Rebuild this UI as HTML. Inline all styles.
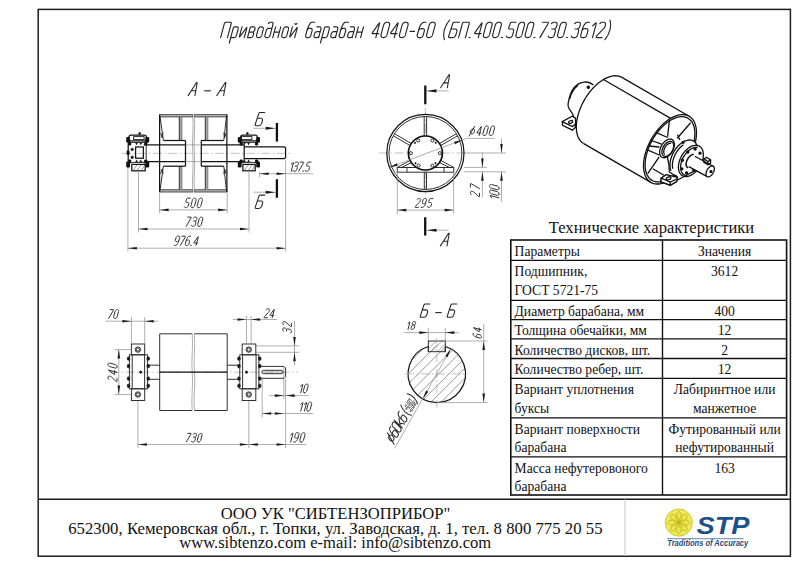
<!DOCTYPE html><html><head><meta charset="utf-8"><style>
*{margin:0;padding:0}
html,body{width:800px;height:566px;background:#fff;overflow:hidden}
svg{position:absolute;left:0;top:0}
.T{stroke:#141414;stroke-width:1.25;fill:none}
.I{stroke:#111;stroke-width:1.3}
.IT{stroke:#111;stroke-width:1.5}
.M{stroke:#262626;stroke-width:0.95}
.m{stroke:#555;stroke-width:0.6}
.m2{stroke:#222;stroke-width:1.1}
.F{stroke:#1e1e1e;stroke-width:1.5}
.t{stroke:#8c8c8c;stroke-width:0.7}
.c{stroke:#a8a8a8;stroke-width:0.7;stroke-dasharray:9 2.5 1.5 2.5}
.c2{stroke:#b0b0b0;stroke-width:0.5}
.S{stroke:#111;stroke-width:2.3}
.g{font-family:"Liberation Sans",sans-serif;font-style:italic;fill:#2a2a2a}
.s{font-family:"Liberation Serif",serif;fill:#111}
.tb{font-size:15.2px}
.ft{font-size:16.7px}
</style></head><body><svg width="800" height="566" viewBox="0 0 800 566"><rect x="38.2" y="9.4" width="752.2" height="546.8" fill="none" stroke="#1e1e1e" stroke-width="1.5"/>
<line x1="38.20" y1="499.20" x2="790.40" y2="499.20" class="F"/>
<line x1="625" y1="499.5" x2="625" y2="556" stroke="#c8c8c8" stroke-width="1"/>
<path transform="translate(220.60 37.60)" d="M0.00,0.00 L3.76,-14.01 L4.11,-14.78 L4.68,-15.25 L5.47,-15.40 L9.65,-15.40 L10.36,-15.25 L10.68,-14.78 L10.63,-14.01 L6.87,0.00 M8.69,5.39 L12.65,-9.39 L12.98,-10.16 L13.49,-10.63 L14.18,-10.78 L16.27,-10.78 L16.72,-10.71 L17.08,-10.50 L17.36,-10.16 L17.44,-10.02 L17.61,-9.57 L17.64,-9.07 L17.55,-8.51 L15.88,-2.27 L15.67,-1.71 L15.36,-1.21 L14.96,-0.76 L14.80,-0.62 L14.34,-0.28 L13.86,-0.07 L13.38,-0.00 L10.13,0.00 M21.42,-10.78 L18.90,-1.39 L18.80,-0.75 L18.97,-0.69 L19.43,-1.20 L25.66,-9.58 L26.12,-10.09 L26.29,-10.03 L26.19,-9.39 L23.67,0.00 M26.93,0.00 L29.45,-9.39 L29.78,-10.16 L30.29,-10.63 L30.98,-10.78 L33.07,-10.78 L33.52,-10.71 L33.88,-10.50 L34.16,-10.16 L34.23,-10.02 L34.40,-9.57 L34.44,-9.07 L34.35,-8.51 L34.16,-7.81 L33.96,-7.25 L33.65,-6.75 L33.24,-6.31 L33.09,-6.17 L32.62,-5.82 L32.15,-5.61 L31.66,-5.54 L28.42,-5.54 M32.40,-5.54 L32.83,-4.78 L33.00,-4.34 L33.04,-3.84 L32.95,-3.28 L32.68,-2.27 L32.47,-1.71 L32.16,-1.21 L31.75,-0.76 L31.60,-0.62 L31.14,-0.28 L30.66,-0.07 L30.18,-0.00 L26.93,0.00 M38.05,-0.00 L38.30,-0.01 L38.54,-0.04 L38.79,-0.08 L38.88,-0.10 L39.12,-0.18 L39.37,-0.29 L39.62,-0.43 L39.70,-0.48 L39.93,-0.65 L40.15,-0.85 L40.36,-1.08 L40.42,-1.16 L40.61,-1.41 L40.77,-1.67 L40.91,-1.95 L40.95,-2.04 L41.06,-2.32 L41.16,-2.61 L41.25,-2.90 L42.58,-7.88 L42.65,-8.17 L42.71,-8.46 L42.74,-8.74 L42.75,-8.83 L42.76,-9.11 L42.74,-9.37 L42.69,-9.62 L42.67,-9.70 L42.58,-9.93 L42.47,-10.13 L42.33,-10.30 L42.28,-10.35 L42.11,-10.49 L41.92,-10.60 L41.71,-10.68 L41.63,-10.70 L41.41,-10.74 L41.18,-10.77 L40.94,-10.78 L40.64,-10.78 L40.39,-10.77 L40.15,-10.74 L39.90,-10.70 L39.82,-10.68 L39.57,-10.60 L39.32,-10.49 L39.07,-10.35 L38.99,-10.30 L38.76,-10.13 L38.54,-9.93 L38.33,-9.70 L38.27,-9.62 L38.08,-9.37 L37.92,-9.11 L37.79,-8.83 L37.74,-8.74 L37.63,-8.46 L37.53,-8.17 L37.44,-7.88 L36.11,-2.90 L36.04,-2.61 L35.99,-2.32 L35.95,-2.04 L35.94,-1.95 L35.93,-1.67 L35.95,-1.41 L36.00,-1.16 L36.02,-1.08 L36.11,-0.85 L36.22,-0.65 L36.36,-0.48 L36.42,-0.43 L36.58,-0.29 L36.77,-0.18 L36.98,-0.10 L37.06,-0.08 L37.28,-0.04 L37.51,-0.01 L37.75,-0.00 L38.05,-0.00 M47.78,-14.17 L48.67,-14.85 L49.16,-15.15 L49.65,-15.34 L50.14,-15.40 L51.10,-15.40 L51.55,-15.33 L51.92,-15.12 L52.19,-14.78 L52.27,-14.64 L52.44,-14.19 L52.48,-13.69 L52.39,-13.13 L49.48,-2.27 L49.27,-1.71 L48.96,-1.21 L48.55,-0.76 L48.40,-0.62 L47.94,-0.28 L47.46,-0.07 L46.98,-0.00 L45.62,-0.00 L45.18,-0.07 L44.81,-0.28 L44.53,-0.62 L44.46,-0.76 L44.29,-1.21 L44.25,-1.71 L44.34,-2.27 L45.60,-6.97 L45.81,-7.53 L46.12,-8.03 L46.52,-8.48 L46.68,-8.62 L47.14,-8.96 L47.61,-9.17 L48.10,-9.24 L51.35,-9.24 M52.13,0.00 L55.02,-10.78 M57.27,0.00 L60.16,-10.78 M53.62,-5.54 L58.76,-5.54 M63.25,-0.00 L63.50,-0.01 L63.74,-0.04 L63.99,-0.08 L64.07,-0.10 L64.32,-0.18 L64.57,-0.29 L64.82,-0.43 L64.90,-0.48 L65.13,-0.65 L65.35,-0.85 L65.56,-1.08 L65.62,-1.16 L65.81,-1.41 L65.97,-1.67 L66.10,-1.95 L66.15,-2.04 L66.26,-2.32 L66.36,-2.61 L66.45,-2.90 L67.78,-7.88 L67.85,-8.17 L67.90,-8.46 L67.94,-8.74 L67.95,-8.83 L67.96,-9.11 L67.94,-9.37 L67.89,-9.62 L67.87,-9.70 L67.78,-9.93 L67.67,-10.13 L67.53,-10.30 L67.47,-10.35 L67.31,-10.49 L67.12,-10.60 L66.91,-10.68 L66.83,-10.70 L66.61,-10.74 L66.38,-10.77 L66.14,-10.78 L65.84,-10.78 L65.59,-10.77 L65.35,-10.74 L65.10,-10.70 L65.01,-10.68 L64.76,-10.60 L64.52,-10.49 L64.27,-10.35 L64.19,-10.30 L63.96,-10.13 L63.74,-9.93 L63.53,-9.70 L63.47,-9.62 L63.28,-9.37 L63.12,-9.11 L62.98,-8.83 L62.94,-8.74 L62.83,-8.46 L62.73,-8.17 L62.64,-7.88 L61.31,-2.90 L61.24,-2.61 L61.18,-2.32 L61.15,-2.04 L61.14,-1.95 L61.13,-1.67 L61.15,-1.41 L61.20,-1.16 L61.22,-1.08 L61.31,-0.85 L61.42,-0.65 L61.56,-0.48 L61.61,-0.43 L61.78,-0.29 L61.97,-0.18 L62.18,-0.10 L62.26,-0.08 L62.48,-0.04 L62.71,-0.01 L62.95,-0.00 L63.25,-0.00 M71.82,-10.78 L69.30,-1.39 L69.20,-0.75 L69.37,-0.69 L69.83,-1.20 L76.06,-9.58 L76.52,-10.09 L76.69,-10.03 L76.59,-9.39 L74.07,0.00 M74.27,-14.17 L74.42,-13.66 L74.53,-13.43 L74.71,-13.29 L74.95,-13.24 L75.15,-13.24 L75.42,-13.29 L75.67,-13.43 L75.91,-13.66 L76.32,-14.17 M94.25,-15.40 L91.43,-15.40 L90.78,-15.28 L90.18,-14.91 L89.64,-14.29 L88.71,-12.94 M88.71,-12.94 L87.59,-10.58 L87.19,-9.68 L86.86,-8.77 L86.58,-7.85 L85.08,-2.27 L84.99,-1.71 L85.03,-1.21 L85.20,-0.76 L85.28,-0.62 L85.56,-0.28 L85.92,-0.07 L86.37,-0.00 L87.72,-0.00 L88.21,-0.07 L88.68,-0.28 L89.15,-0.62 L89.30,-0.76 L89.71,-1.21 L90.01,-1.71 L90.22,-2.27 L91.48,-6.97 L91.57,-7.53 L91.54,-8.03 L91.37,-8.48 L91.29,-8.62 L91.01,-8.96 L90.65,-9.17 L90.20,-9.24 L88.84,-9.24 L88.36,-9.17 L87.88,-8.96 L87.42,-8.62 L86.58,-7.85 M96.28,-10.78 L99.01,-10.78 L99.46,-10.71 L99.82,-10.50 L100.10,-10.16 L100.18,-10.02 L100.35,-9.57 L100.39,-9.07 L100.29,-8.51 L98.01,0.00 M99.62,-6.01 L96.38,-6.01 L95.89,-5.94 L95.42,-5.73 L94.95,-5.38 L94.80,-5.24 L94.39,-4.80 L94.08,-4.30 L93.88,-3.74 L93.48,-2.27 L93.39,-1.71 L93.43,-1.21 L93.60,-0.76 L93.68,-0.62 L93.96,-0.28 L94.32,-0.07 L94.77,-0.00 L96.12,-0.00 L96.61,-0.07 L97.08,-0.28 L97.54,-0.62 L98.39,-1.39 M99.83,5.39 L103.79,-9.39 L104.13,-10.16 L104.64,-10.63 L105.32,-10.78 L107.41,-10.78 L107.86,-10.71 L108.22,-10.50 L108.50,-10.16 L108.58,-10.02 L108.75,-9.57 L108.79,-9.07 L108.69,-8.51 L107.02,-2.27 L106.81,-1.71 L106.51,-1.21 L106.10,-0.76 L105.94,-0.62 L105.48,-0.28 L105.01,-0.07 L104.52,-0.00 L101.27,0.00 M113.08,-10.78 L115.81,-10.78 L116.26,-10.71 L116.62,-10.50 L116.90,-10.16 L116.98,-10.02 L117.15,-9.57 L117.19,-9.07 L117.09,-8.51 L114.81,0.00 M116.42,-6.01 L113.18,-6.01 L112.69,-5.94 L112.22,-5.73 L111.75,-5.38 L111.60,-5.24 L111.19,-4.80 L110.88,-4.30 L110.68,-3.74 L110.28,-2.27 L110.19,-1.71 L110.23,-1.21 L110.40,-0.76 L110.48,-0.62 L110.76,-0.28 L111.12,-0.07 L111.57,-0.00 L112.92,-0.00 L113.41,-0.07 L113.88,-0.28 L114.34,-0.62 L115.18,-1.39 M127.85,-15.40 L125.03,-15.40 L124.37,-15.28 L123.78,-14.91 L123.24,-14.29 L122.31,-12.94 M122.31,-12.94 L121.19,-10.58 L120.79,-9.68 L120.46,-8.77 L120.18,-7.85 L118.68,-2.27 L118.59,-1.71 L118.63,-1.21 L118.80,-0.76 L118.88,-0.62 L119.16,-0.28 L119.52,-0.07 L119.97,-0.00 L121.32,-0.00 L121.81,-0.07 L122.28,-0.28 L122.74,-0.62 L122.90,-0.76 L123.31,-1.21 L123.61,-1.71 L123.82,-2.27 L125.08,-6.97 L125.17,-7.53 L125.13,-8.03 L124.96,-8.48 L124.89,-8.62 L124.61,-8.96 L124.24,-9.17 L123.80,-9.24 L122.44,-9.24 L121.96,-9.17 L121.48,-8.96 L121.02,-8.62 L120.18,-7.85 M129.88,-10.78 L132.61,-10.78 L133.06,-10.71 L133.42,-10.50 L133.70,-10.16 L133.78,-10.02 L133.95,-9.57 L133.99,-9.07 L133.89,-8.51 L131.61,0.00 M133.22,-6.01 L129.98,-6.01 L129.49,-5.94 L129.02,-5.73 L128.55,-5.38 L128.40,-5.24 L127.99,-4.80 L127.68,-4.30 L127.48,-3.74 L127.08,-2.27 L126.99,-1.71 L127.03,-1.21 L127.20,-0.76 L127.28,-0.62 L127.55,-0.28 L127.92,-0.07 L128.37,-0.00 L129.72,-0.00 L130.21,-0.07 L130.68,-0.28 L131.14,-0.62 L131.98,-1.39 M134.87,0.00 L137.76,-10.78 M140.01,0.00 L142.90,-10.78 M136.36,-5.54 L141.50,-5.54 M155.20,0.00 L158.95,-14.01 L159.06,-14.64 L158.88,-14.69 L158.42,-14.15 L152.01,-5.30 L151.85,-5.05 L151.72,-4.79 L151.63,-4.51 L151.60,-4.42 L151.59,-4.19 L151.68,-4.05 L151.89,-4.00 L158.06,-4.00 M162.67,-0.00 L162.85,-0.01 L163.03,-0.02 L163.22,-0.05 L163.54,-0.12 L163.86,-0.20 L164.18,-0.32 L164.49,-0.48 L164.59,-0.54 L164.89,-0.74 L165.17,-0.96 L165.43,-1.22 L165.51,-1.31 L165.74,-1.58 L165.94,-1.88 L166.10,-2.19 L166.15,-2.29 L166.29,-2.61 L166.41,-2.94 L166.50,-3.26 L168.88,-12.14 L168.96,-12.46 L169.01,-12.79 L169.05,-13.11 L169.06,-13.21 L169.06,-13.52 L169.02,-13.82 L168.94,-14.09 L168.91,-14.18 L168.78,-14.44 L168.63,-14.66 L168.43,-14.86 L168.36,-14.92 L168.13,-15.08 L167.88,-15.20 L167.60,-15.28 L167.32,-15.35 L167.15,-15.38 L166.98,-15.39 L166.80,-15.40 L166.74,-15.40 L166.56,-15.39 L166.38,-15.38 L166.19,-15.35 L165.87,-15.28 L165.55,-15.20 L165.23,-15.08 L164.92,-14.92 L164.82,-14.86 L164.52,-14.66 L164.24,-14.44 L163.98,-14.18 L163.90,-14.09 L163.67,-13.82 L163.47,-13.52 L163.31,-13.21 L163.26,-13.11 L163.12,-12.79 L163.00,-12.46 L162.91,-12.14 L160.53,-3.26 L160.45,-2.94 L160.40,-2.61 L160.36,-2.29 L160.35,-2.19 L160.35,-1.88 L160.39,-1.58 L160.47,-1.31 L160.51,-1.22 L160.63,-0.96 L160.78,-0.74 L160.98,-0.54 L161.05,-0.48 L161.28,-0.32 L161.53,-0.20 L161.81,-0.12 L162.09,-0.05 L162.26,-0.02 L162.44,-0.01 L162.61,-0.00 L162.67,-0.00 M173.67,0.00 L177.43,-14.01 L177.53,-14.64 L177.35,-14.69 L176.89,-14.15 L170.48,-5.30 L170.32,-5.05 L170.19,-4.79 L170.10,-4.51 L170.08,-4.42 L170.06,-4.19 L170.16,-4.05 L170.37,-4.00 L176.54,-4.00 M181.14,-0.00 L181.32,-0.01 L181.51,-0.02 L181.69,-0.05 L182.01,-0.12 L182.33,-0.20 L182.65,-0.32 L182.96,-0.48 L183.07,-0.54 L183.37,-0.74 L183.65,-0.96 L183.90,-1.22 L183.99,-1.31 L184.22,-1.58 L184.41,-1.88 L184.58,-2.19 L184.63,-2.29 L184.76,-2.61 L184.88,-2.94 L184.98,-3.26 L187.36,-12.14 L187.43,-12.46 L187.49,-12.79 L187.52,-13.11 L187.53,-13.21 L187.53,-13.52 L187.49,-13.82 L187.41,-14.09 L187.38,-14.18 L187.26,-14.44 L187.10,-14.66 L186.90,-14.86 L186.83,-14.92 L186.61,-15.08 L186.35,-15.20 L186.07,-15.28 L185.79,-15.35 L185.62,-15.38 L185.45,-15.39 L185.27,-15.40 L185.21,-15.40 L185.03,-15.39 L184.85,-15.38 L184.66,-15.35 L184.35,-15.28 L184.02,-15.20 L183.70,-15.08 L183.39,-14.92 L183.29,-14.86 L182.99,-14.66 L182.71,-14.44 L182.45,-14.18 L182.37,-14.09 L182.14,-13.82 L181.94,-13.52 L181.78,-13.21 L181.73,-13.11 L181.59,-12.79 L181.48,-12.46 L181.38,-12.14 L179.00,-3.26 L178.92,-2.94 L178.87,-2.61 L178.83,-2.29 L178.83,-2.19 L178.82,-1.88 L178.86,-1.58 L178.94,-1.31 L178.98,-1.22 L179.10,-0.96 L179.26,-0.74 L179.45,-0.54 L179.52,-0.48 L179.75,-0.32 L180.00,-0.20 L180.28,-0.12 L180.57,-0.05 L180.74,-0.02 L180.91,-0.01 L181.08,-0.00 L181.14,-0.00 M189.46,-6.16 L193.94,-6.16 M205.51,-15.40 L203.86,-15.40 L203.00,-15.28 L202.18,-14.90 L201.43,-14.28 L200.92,-13.75 L200.26,-12.97 L199.71,-12.14 L199.28,-11.25 L199.03,-10.61 L198.68,-9.70 L198.37,-8.78 L198.11,-7.85 L196.66,-2.47 L196.57,-1.88 L196.63,-1.34 L196.83,-0.85 L196.93,-0.69 L197.26,-0.31 L197.70,-0.08 L198.25,-0.00 L199.73,-0.00 L200.32,-0.08 L200.88,-0.31 L201.42,-0.69 L201.60,-0.85 L202.07,-1.34 L202.41,-1.88 L202.64,-2.47 L203.76,-6.66 L203.85,-7.22 L203.78,-7.73 L203.56,-8.17 L203.46,-8.31 L203.13,-8.65 L202.69,-8.86 L202.17,-8.93 L200.60,-8.93 L200.03,-8.86 L199.49,-8.65 L198.97,-8.31 L198.02,-7.55 M208.26,-0.00 L208.44,-0.01 L208.62,-0.02 L208.80,-0.05 L209.12,-0.12 L209.44,-0.20 L209.76,-0.32 L210.08,-0.48 L210.18,-0.54 L210.48,-0.74 L210.76,-0.96 L211.01,-1.22 L211.10,-1.31 L211.33,-1.58 L211.52,-1.88 L211.69,-2.19 L211.74,-2.29 L211.87,-2.61 L211.99,-2.94 L212.09,-3.26 L214.47,-12.14 L214.54,-12.46 L214.60,-12.79 L214.63,-13.11 L214.64,-13.21 L214.64,-13.52 L214.60,-13.82 L214.52,-14.09 L214.49,-14.18 L214.37,-14.44 L214.21,-14.66 L214.01,-14.86 L213.94,-14.92 L213.72,-15.08 L213.46,-15.20 L213.19,-15.28 L212.90,-15.35 L212.73,-15.38 L212.56,-15.39 L212.38,-15.40 L212.32,-15.40 L212.14,-15.39 L211.96,-15.38 L211.78,-15.35 L211.46,-15.28 L211.13,-15.20 L210.82,-15.08 L210.50,-14.92 L210.40,-14.86 L210.10,-14.66 L209.82,-14.44 L209.56,-14.18 L209.48,-14.09 L209.25,-13.82 L209.05,-13.52 L208.89,-13.21 L208.84,-13.11 L208.71,-12.79 L208.59,-12.46 L208.49,-12.14 L206.11,-3.26 L206.04,-2.94 L205.98,-2.61 L205.95,-2.29 L205.94,-2.19 L205.93,-1.88 L205.97,-1.58 L206.06,-1.31 L206.09,-1.22 L206.21,-0.96 L206.37,-0.74 L206.56,-0.54 L206.63,-0.48 L206.86,-0.32 L207.11,-0.20 L207.39,-0.12 L207.68,-0.05 L207.85,-0.02 L208.02,-0.01 L208.20,-0.00 L208.26,-0.00 M229.01,-17.56 L226.76,-14.35 L226.21,-13.50 L225.72,-12.62 L225.32,-11.72 L224.24,-9.07 L223.91,-8.16 L223.67,-7.24 L223.51,-6.33 L223.16,-3.68 L223.09,-2.78 L223.10,-1.90 L223.20,-1.05 L223.73,2.16 M238.87,-15.40 L233.94,-15.40 L233.14,-15.25 L232.54,-14.79 L232.14,-14.02 L228.02,-1.38 L227.92,-0.61 L228.22,-0.15 L228.91,-0.00 L232.00,-0.00 L232.62,-0.08 L233.22,-0.31 L233.81,-0.69 L234.00,-0.85 L234.51,-1.34 L234.90,-1.90 L235.17,-2.52 L236.20,-5.70 L236.35,-6.39 L236.32,-7.03 L236.11,-7.61 L236.01,-7.79 L235.64,-8.25 L235.14,-8.53 L234.51,-8.62 L230.18,-8.62 M238.00,0.00 L241.76,-14.01 L242.11,-14.78 L242.68,-15.25 L243.47,-15.40 L247.65,-15.40 L248.36,-15.25 L248.68,-14.78 L248.63,-14.01 L244.87,0.00 M248.32,-0.15 L249.52,-0.15 M257.67,0.00 L261.42,-14.01 L261.53,-14.64 L261.35,-14.69 L260.89,-14.15 L254.48,-5.30 L254.32,-5.05 L254.19,-4.79 L254.10,-4.51 L254.07,-4.42 L254.06,-4.19 L254.15,-4.05 L254.36,-4.00 L260.53,-4.00 M265.14,-0.00 L265.32,-0.01 L265.50,-0.02 L265.69,-0.05 L266.01,-0.12 L266.33,-0.20 L266.65,-0.32 L266.96,-0.48 L267.06,-0.54 L267.36,-0.74 L267.64,-0.96 L267.90,-1.22 L267.98,-1.31 L268.21,-1.58 L268.41,-1.88 L268.57,-2.19 L268.62,-2.29 L268.76,-2.61 L268.88,-2.94 L268.97,-3.26 L271.35,-12.14 L271.43,-12.46 L271.48,-12.79 L271.52,-13.11 L271.53,-13.21 L271.53,-13.52 L271.49,-13.82 L271.41,-14.09 L271.37,-14.18 L271.25,-14.44 L271.10,-14.66 L270.90,-14.86 L270.83,-14.92 L270.60,-15.08 L270.35,-15.20 L270.07,-15.28 L269.79,-15.35 L269.62,-15.38 L269.45,-15.39 L269.27,-15.40 L269.21,-15.40 L269.03,-15.39 L268.85,-15.38 L268.66,-15.35 L268.34,-15.28 L268.02,-15.20 L267.70,-15.08 L267.39,-14.92 L267.29,-14.86 L266.99,-14.66 L266.71,-14.44 L266.45,-14.18 L266.37,-14.09 L266.14,-13.82 L265.94,-13.52 L265.78,-13.21 L265.73,-13.11 L265.59,-12.79 L265.47,-12.46 L265.38,-12.14 L263.00,-3.26 L262.92,-2.94 L262.87,-2.61 L262.83,-2.29 L262.82,-2.19 L262.82,-1.88 L262.86,-1.58 L262.94,-1.31 L262.98,-1.22 L263.10,-0.96 L263.25,-0.74 L263.45,-0.54 L263.52,-0.48 L263.75,-0.32 L264.00,-0.20 L264.28,-0.12 L264.56,-0.05 L264.73,-0.02 L264.91,-0.01 L265.08,-0.00 L265.14,-0.00 M274.38,-0.00 L274.56,-0.01 L274.74,-0.02 L274.93,-0.05 L275.24,-0.12 L275.57,-0.20 L275.89,-0.32 L276.20,-0.48 L276.30,-0.54 L276.60,-0.74 L276.88,-0.96 L277.14,-1.22 L277.22,-1.31 L277.45,-1.58 L277.65,-1.88 L277.81,-2.19 L277.86,-2.29 L278.00,-2.61 L278.11,-2.94 L278.21,-3.26 L280.59,-12.14 L280.67,-12.46 L280.72,-12.79 L280.76,-13.11 L280.76,-13.21 L280.77,-13.52 L280.73,-13.82 L280.65,-14.09 L280.61,-14.18 L280.49,-14.44 L280.33,-14.66 L280.14,-14.86 L280.07,-14.92 L279.84,-15.08 L279.59,-15.20 L279.31,-15.28 L279.02,-15.35 L278.85,-15.38 L278.68,-15.39 L278.50,-15.40 L278.44,-15.40 L278.26,-15.39 L278.08,-15.38 L277.90,-15.35 L277.58,-15.28 L277.26,-15.20 L276.94,-15.08 L276.63,-14.92 L276.52,-14.86 L276.22,-14.66 L275.94,-14.44 L275.69,-14.18 L275.60,-14.09 L275.37,-13.82 L275.18,-13.52 L275.01,-13.21 L274.96,-13.11 L274.83,-12.79 L274.71,-12.46 L274.61,-12.14 L272.23,-3.26 L272.16,-2.94 L272.10,-2.61 L272.07,-2.29 L272.06,-2.19 L272.06,-1.88 L272.10,-1.58 L272.18,-1.31 L272.21,-1.22 L272.33,-0.96 L272.49,-0.74 L272.69,-0.54 L272.76,-0.48 L272.98,-0.32 L273.24,-0.20 L273.51,-0.12 L273.80,-0.05 L273.97,-0.02 L274.14,-0.01 L274.32,-0.00 L274.38,-0.00 M280.79,-0.15 L281.98,-0.15 M295.45,-15.40 L291.42,-15.40 L290.62,-15.25 L290.01,-14.79 L289.58,-14.02 L288.15,-10.00 L288.03,-9.24 L288.31,-8.78 L289.01,-8.62 L291.39,-8.62 L291.94,-8.55 L292.38,-8.32 L292.71,-7.93 L292.81,-7.78 L293.01,-7.29 L293.07,-6.75 L292.98,-6.15 L291.99,-2.47 L291.76,-1.88 L291.42,-1.34 L290.95,-0.85 L290.77,-0.69 L290.23,-0.31 L289.67,-0.08 L289.08,-0.00 L287.60,-0.00 L287.05,-0.08 L286.61,-0.31 L286.28,-0.69 L285.76,-1.54 M297.61,-0.00 L297.79,-0.01 L297.97,-0.02 L298.15,-0.05 L298.47,-0.12 L298.79,-0.20 L299.11,-0.32 L299.43,-0.48 L299.53,-0.54 L299.83,-0.74 L300.11,-0.96 L300.36,-1.22 L300.45,-1.31 L300.68,-1.58 L300.87,-1.88 L301.04,-2.19 L301.09,-2.29 L301.22,-2.61 L301.34,-2.94 L301.44,-3.26 L303.82,-12.14 L303.89,-12.46 L303.95,-12.79 L303.98,-13.11 L303.99,-13.21 L303.99,-13.52 L303.95,-13.82 L303.87,-14.09 L303.84,-14.18 L303.72,-14.44 L303.56,-14.66 L303.36,-14.86 L303.29,-14.92 L303.07,-15.08 L302.81,-15.20 L302.54,-15.28 L302.25,-15.35 L302.08,-15.38 L301.91,-15.39 L301.73,-15.40 L301.67,-15.40 L301.49,-15.39 L301.31,-15.38 L301.13,-15.35 L300.81,-15.28 L300.48,-15.20 L300.17,-15.08 L299.85,-14.92 L299.75,-14.86 L299.45,-14.66 L299.17,-14.44 L298.91,-14.18 L298.83,-14.09 L298.60,-13.82 L298.40,-13.52 L298.24,-13.21 L298.19,-13.11 L298.06,-12.79 L297.94,-12.46 L297.84,-12.14 L295.46,-3.26 L295.38,-2.94 L295.33,-2.61 L295.30,-2.29 L295.29,-2.19 L295.28,-1.88 L295.32,-1.58 L295.41,-1.31 L295.44,-1.22 L295.56,-0.96 L295.72,-0.74 L295.91,-0.54 L295.98,-0.48 L296.21,-0.32 L296.46,-0.20 L296.74,-0.12 L297.03,-0.05 L297.20,-0.02 L297.37,-0.01 L297.55,-0.00 L297.61,-0.00 M306.84,-0.00 L307.02,-0.01 L307.20,-0.02 L307.39,-0.05 L307.71,-0.12 L308.03,-0.20 L308.35,-0.32 L308.66,-0.48 L308.76,-0.54 L309.06,-0.74 L309.34,-0.96 L309.60,-1.22 L309.68,-1.31 L309.91,-1.58 L310.11,-1.88 L310.27,-2.19 L310.32,-2.29 L310.46,-2.61 L310.58,-2.94 L310.67,-3.26 L313.05,-12.14 L313.13,-12.46 L313.18,-12.79 L313.22,-13.11 L313.23,-13.21 L313.23,-13.52 L313.19,-13.82 L313.11,-14.09 L313.07,-14.18 L312.95,-14.44 L312.80,-14.66 L312.60,-14.86 L312.53,-14.92 L312.30,-15.08 L312.05,-15.20 L311.77,-15.28 L311.49,-15.35 L311.32,-15.38 L311.15,-15.39 L310.97,-15.40 L310.91,-15.40 L310.73,-15.39 L310.55,-15.38 L310.36,-15.35 L310.04,-15.28 L309.72,-15.20 L309.40,-15.08 L309.09,-14.92 L308.99,-14.86 L308.69,-14.66 L308.41,-14.44 L308.15,-14.18 L308.07,-14.09 L307.84,-13.82 L307.64,-13.52 L307.48,-13.21 L307.43,-13.11 L307.29,-12.79 L307.17,-12.46 L307.08,-12.14 L304.70,-3.26 L304.62,-2.94 L304.57,-2.61 L304.53,-2.29 L304.52,-2.19 L304.52,-1.88 L304.56,-1.58 L304.64,-1.31 L304.68,-1.22 L304.80,-0.96 L304.95,-0.74 L305.15,-0.54 L305.22,-0.48 L305.45,-0.32 L305.70,-0.20 L305.98,-0.12 L306.26,-0.05 L306.43,-0.02 L306.61,-0.01 L306.78,-0.00 L306.84,-0.00 M313.25,-0.15 L314.45,-0.15 M321.94,-15.40 L327.38,-15.40 L327.66,-15.34 L327.79,-15.15 L327.77,-14.85 L327.74,-14.72 L327.62,-14.36 L327.47,-14.00 L327.28,-13.64 L319.31,0.00 M330.77,-13.86 L331.73,-14.71 L332.27,-15.09 L332.84,-15.32 L333.43,-15.40 L334.90,-15.40 L335.45,-15.32 L335.89,-15.09 L336.23,-14.71 L336.32,-14.55 L336.53,-14.06 L336.58,-13.52 L336.49,-12.93 L336.00,-11.10 L335.77,-10.50 L335.43,-9.96 L334.96,-9.47 L334.78,-9.32 L334.24,-8.93 L333.68,-8.70 L333.09,-8.62 L331.16,-8.62 M333.99,-8.62 L334.51,-7.78 L334.71,-7.29 L334.77,-6.75 L334.68,-6.15 L333.69,-2.47 L333.46,-1.88 L333.12,-1.34 L332.65,-0.85 L332.47,-0.69 L331.93,-0.31 L331.37,-0.08 L330.78,-0.00 L329.30,-0.00 L328.75,-0.08 L328.31,-0.31 L327.98,-0.69 L327.46,-1.54 M339.31,-0.00 L339.49,-0.01 L339.67,-0.02 L339.85,-0.05 L340.17,-0.12 L340.49,-0.20 L340.81,-0.32 L341.12,-0.48 L341.23,-0.54 L341.53,-0.74 L341.81,-0.96 L342.06,-1.22 L342.15,-1.31 L342.38,-1.58 L342.57,-1.88 L342.74,-2.19 L342.79,-2.29 L342.92,-2.61 L343.04,-2.94 L343.14,-3.26 L345.52,-12.14 L345.59,-12.46 L345.65,-12.79 L345.68,-13.11 L345.69,-13.21 L345.69,-13.52 L345.65,-13.82 L345.57,-14.09 L345.54,-14.18 L345.42,-14.44 L345.26,-14.66 L345.06,-14.86 L344.99,-14.92 L344.77,-15.08 L344.51,-15.20 L344.24,-15.28 L343.95,-15.35 L343.78,-15.38 L343.61,-15.39 L343.43,-15.40 L343.37,-15.40 L343.19,-15.39 L343.01,-15.38 L342.83,-15.35 L342.51,-15.28 L342.18,-15.20 L341.87,-15.08 L341.55,-14.92 L341.45,-14.86 L341.15,-14.66 L340.87,-14.44 L340.61,-14.18 L340.53,-14.09 L340.30,-13.82 L340.10,-13.52 L339.94,-13.21 L339.89,-13.11 L339.75,-12.79 L339.64,-12.46 L339.54,-12.14 L337.16,-3.26 L337.08,-2.94 L337.03,-2.61 L336.99,-2.29 L336.99,-2.19 L336.98,-1.88 L337.02,-1.58 L337.11,-1.31 L337.14,-1.22 L337.26,-0.96 L337.42,-0.74 L337.61,-0.54 L337.68,-0.48 L337.91,-0.32 L338.16,-0.20 L338.44,-0.12 L338.73,-0.05 L338.90,-0.02 L339.07,-0.01 L339.25,-0.00 L339.31,-0.00 M345.71,-0.15 L346.91,-0.15 M353.99,-13.86 L354.96,-14.71 L355.50,-15.09 L356.06,-15.32 L356.65,-15.40 L358.13,-15.40 L358.68,-15.32 L359.12,-15.09 L359.46,-14.71 L359.55,-14.55 L359.75,-14.06 L359.81,-13.52 L359.72,-12.93 L359.23,-11.10 L359.00,-10.50 L358.65,-9.96 L358.19,-9.47 L358.01,-9.32 L357.47,-8.93 L356.91,-8.70 L356.32,-8.62 L354.38,-8.62 M357.22,-8.62 L357.73,-7.78 L357.94,-7.29 L357.99,-6.75 L357.90,-6.15 L356.92,-2.47 L356.69,-1.88 L356.34,-1.34 L355.88,-0.85 L355.70,-0.69 L355.16,-0.31 L354.60,-0.08 L354.01,-0.00 L352.53,-0.00 L351.98,-0.08 L351.54,-0.31 L351.20,-0.69 L350.69,-1.54 M369.02,-15.40 L367.38,-15.40 L366.51,-15.28 L365.70,-14.90 L364.94,-14.28 L364.44,-13.75 L363.77,-12.97 L363.22,-12.14 L362.80,-11.25 L362.54,-10.61 L362.19,-9.70 L361.89,-8.78 L361.62,-7.85 L360.18,-2.47 L360.09,-1.88 L360.14,-1.34 L360.35,-0.85 L360.44,-0.69 L360.77,-0.31 L361.22,-0.08 L361.76,-0.00 L363.24,-0.00 L363.83,-0.08 L364.40,-0.31 L364.94,-0.69 L365.11,-0.85 L365.58,-1.34 L365.93,-1.88 L366.15,-2.47 L367.28,-6.66 L367.36,-7.22 L367.29,-7.73 L367.07,-8.17 L366.98,-8.31 L366.64,-8.65 L366.21,-8.86 L365.68,-8.93 L364.11,-8.93 L363.55,-8.86 L363.01,-8.65 L362.48,-8.31 L361.54,-7.55 M371.89,-11.70 L374.85,-14.36 L375.46,-14.78 L375.72,-14.67 L375.64,-14.01 L371.89,0.00 M379.16,-13.86 L380.13,-14.71 L380.67,-15.09 L381.23,-15.32 L381.82,-15.40 L383.30,-15.40 L383.85,-15.32 L384.29,-15.09 L384.62,-14.71 L384.72,-14.55 L384.92,-14.06 L384.98,-13.52 L384.89,-12.93 L384.52,-11.55 L384.19,-10.65 L383.71,-9.81 L383.07,-9.03 L376.30,-1.90 L376.02,-1.54 L375.80,-1.17 L375.65,-0.76 L375.62,-0.62 L375.59,-0.28 L375.74,-0.07 L376.05,-0.00 L381.42,0.00 M389.39,-17.56 L389.92,-14.35 L390.02,-13.50 L390.03,-12.62 L389.96,-11.72 L389.61,-9.07 L389.45,-8.16 L389.21,-7.24 L388.88,-6.33 L387.80,-3.68 L387.39,-2.78 L386.91,-1.90 L386.36,-1.05 L384.11,2.16" fill="none" stroke="#262626" stroke-width="1.15" stroke-linecap="round" stroke-linejoin="round"/>
<line x1="122" y1="153.35" x2="292" y2="153.35" class="c"/>
<rect x="159.6" y="114.7" width="33.10" height="2.20" fill="#bdbdbd" stroke="#2a2a2a" stroke-width="0.8"/>
<rect x="159.6" y="189.8" width="33.10" height="2.20" fill="#bdbdbd" stroke="#2a2a2a" stroke-width="0.8"/>
<rect x="194.5" y="114.7" width="32.40" height="2.20" fill="#bdbdbd" stroke="#2a2a2a" stroke-width="0.8"/>
<rect x="194.5" y="189.8" width="32.40" height="2.20" fill="#bdbdbd" stroke="#2a2a2a" stroke-width="0.8"/>
<rect x="179.3" y="116.9" width="2.70" height="23.60" fill="#a9a9a9" stroke="none"/>
<line x1="179.30" y1="116.90" x2="179.30" y2="140.50" class="M"/>
<line x1="182.00" y1="116.90" x2="182.00" y2="140.50" class="m"/>
<rect x="179.3" y="166.2" width="2.70" height="23.60" fill="#a9a9a9" stroke="none"/>
<line x1="179.30" y1="166.20" x2="179.30" y2="189.80" class="M"/>
<line x1="182.00" y1="166.20" x2="182.00" y2="189.80" class="m"/>
<rect x="205.3" y="116.9" width="2.60" height="23.60" fill="#a9a9a9" stroke="none"/>
<line x1="205.30" y1="116.90" x2="205.30" y2="140.50" class="M"/>
<line x1="207.90" y1="116.90" x2="207.90" y2="140.50" class="m"/>
<rect x="205.3" y="166.2" width="2.60" height="23.60" fill="#a9a9a9" stroke="none"/>
<line x1="205.30" y1="166.20" x2="205.30" y2="189.80" class="M"/>
<line x1="207.90" y1="166.20" x2="207.90" y2="189.80" class="m"/>
<line x1="163.40" y1="140.50" x2="185.50" y2="140.50" class="T"/>
<line x1="163.40" y1="166.20" x2="185.50" y2="166.20" class="T"/>
<line x1="185.50" y1="140.50" x2="185.50" y2="166.20" class="T"/>
<line x1="160.10" y1="116.90" x2="163.40" y2="140.50" class="M"/>
<line x1="160.10" y1="189.80" x2="163.40" y2="166.20" class="M"/>
<polyline points="160.60,133.00 162.20,137.80 163.00,132.60" class="M" fill="none"/>
<polyline points="160.60,173.70 162.20,168.90 163.00,174.10" class="M" fill="none"/>
<line x1="201.30" y1="140.50" x2="223.80" y2="140.50" class="T"/>
<line x1="201.30" y1="166.20" x2="223.80" y2="166.20" class="T"/>
<line x1="201.30" y1="140.50" x2="201.30" y2="166.20" class="T"/>
<line x1="226.40" y1="116.90" x2="223.80" y2="140.50" class="M"/>
<line x1="226.40" y1="189.80" x2="223.80" y2="166.20" class="M"/>
<polyline points="226.10,133.00 224.60,137.80 223.80,132.60" class="M" fill="none"/>
<polyline points="226.10,173.70 224.60,168.90 223.80,174.10" class="M" fill="none"/>
<line x1="159.60" y1="114.70" x2="159.60" y2="192.00" class="T"/>
<line x1="226.90" y1="114.70" x2="226.90" y2="192.00" class="T"/>
<path d="M192.8,114.7 q0.6,9.7 0,19.4 q-0.6,9.7 0,19.4 q0.6,9.7 0,19.4 q-0.6,9.7 0,19.1" class="t" fill="none"/>
<path d="M194.4,114.7 q0.6,9.7 0,19.4 q-0.6,9.7 0,19.4 q0.6,9.7 0,19.4 q-0.6,9.7 0,19.1" class="t" fill="none"/>
<line x1="143.80" y1="144.90" x2="185.50" y2="144.90" class="T"/>
<line x1="143.80" y1="161.60" x2="185.50" y2="161.60" class="T"/>
<line x1="201.30" y1="144.90" x2="244.20" y2="144.90" class="T"/>
<line x1="201.30" y1="161.60" x2="244.20" y2="161.60" class="T"/>
<line x1="185.50" y1="144.90" x2="201.30" y2="144.90" class="t"/>
<line x1="185.50" y1="161.60" x2="201.30" y2="161.60" class="t"/>
<polyline points="244.20,146.90 284.40,146.90 285.60,148.10 285.60,157.40 284.40,158.60 244.20,158.60" class="T" fill="none"/>
<line x1="244.20" y1="144.90" x2="244.20" y2="161.60" class="T"/>
<rect x="129.00" y="135.20" width="17.40" height="5.70" class="T" fill="none" rx="2.0"/>
<rect x="133.60" y="136.60" width="10.50" height="3.00" class="M" fill="none" rx="0"/>
<line x1="139.60" y1="132.60" x2="139.60" y2="135.20" class="T"/>
<circle cx="139.60" cy="133.40" r="0.90" class="M" fill="#222"/>
<rect x="126.20" y="136.90" width="3.80" height="5.70" rx="1.2" fill="#111"/>
<rect x="145.40" y="136.90" width="3.80" height="5.70" rx="1.2" fill="#111"/>
<rect x="126.20" y="161.40" width="3.80" height="6.00" rx="1.2" fill="#111"/>
<rect x="145.40" y="161.40" width="3.80" height="6.00" rx="1.2" fill="#111"/>
<rect x="128.00" y="141.40" width="3.20" height="4.00" rx="1.2" fill="#111"/>
<rect x="144.20" y="141.40" width="3.20" height="4.00" rx="1.2" fill="#111"/>
<rect x="128.00" y="159.40" width="3.20" height="4.00" rx="1.2" fill="#111"/>
<rect x="144.20" y="159.40" width="3.20" height="4.00" rx="1.2" fill="#111"/>
<line x1="130.10" y1="142.40" x2="145.30" y2="142.40" class="M"/>
<line x1="130.10" y1="162.40" x2="145.30" y2="162.40" class="M"/>
<polygon points="135.00,142.6 138.20,142.6 136.60,145.2" fill="#222"/>
<polygon points="135.00,162.2 138.20,162.2 136.60,159.6" fill="#222"/>
<polygon points="139.20,142.6 142.40,142.6 140.80,145.2" fill="#222"/>
<polygon points="139.20,162.2 142.40,162.2 140.80,159.6" fill="#222"/>
<line x1="128.20" y1="137.50" x2="128.20" y2="167.50" class="T"/>
<rect x="126.60" y="150.60" width="3.00" height="4.40" rx="1.2" fill="#111"/>
<rect x="135.60" y="147.00" width="7.80" height="11.20" class="T" fill="none" rx="0"/>
<circle cx="132.20" cy="149.40" r="1.20" class="M" fill="#111"/>
<circle cx="132.20" cy="157.30" r="1.20" class="M" fill="#111"/>
<line x1="146.20" y1="145.20" x2="146.20" y2="159.60" class="M"/>
<rect x="131.80" y="164.40" width="13.40" height="6.40" class="T" fill="none" rx="0"/>
<line x1="133.40" y1="170.20" x2="137.00" y2="165.00" class="m"/>
<line x1="137.30" y1="170.20" x2="140.90" y2="165.00" class="m"/>
<line x1="141.20" y1="170.20" x2="144.80" y2="165.00" class="m"/>
<rect x="240.60" y="135.20" width="16.60" height="5.70" class="T" fill="none" rx="2.0"/>
<rect x="241.40" y="136.60" width="10.50" height="3.00" class="M" fill="none" rx="0"/>
<line x1="247.40" y1="132.60" x2="247.40" y2="135.20" class="T"/>
<circle cx="247.40" cy="133.40" r="0.90" class="M" fill="#222"/>
<rect x="237.80" y="136.90" width="3.80" height="5.70" rx="1.2" fill="#111"/>
<rect x="256.20" y="136.90" width="3.80" height="5.70" rx="1.2" fill="#111"/>
<rect x="237.80" y="161.40" width="3.80" height="6.00" rx="1.2" fill="#111"/>
<rect x="256.20" y="161.40" width="3.80" height="6.00" rx="1.2" fill="#111"/>
<rect x="239.60" y="141.40" width="3.20" height="4.00" rx="1.2" fill="#111"/>
<rect x="255.00" y="141.40" width="3.20" height="4.00" rx="1.2" fill="#111"/>
<rect x="239.60" y="159.40" width="3.20" height="4.00" rx="1.2" fill="#111"/>
<rect x="255.00" y="159.40" width="3.20" height="4.00" rx="1.2" fill="#111"/>
<line x1="241.70" y1="142.40" x2="256.10" y2="142.40" class="M"/>
<line x1="241.70" y1="162.40" x2="256.10" y2="162.40" class="M"/>
<polygon points="242.80,142.6 246.00,142.6 244.40,145.2" fill="#222"/>
<polygon points="242.80,162.2 246.00,162.2 244.40,159.6" fill="#222"/>
<polygon points="247.00,142.6 250.20,142.6 248.60,145.2" fill="#222"/>
<polygon points="247.00,162.2 250.20,162.2 248.60,159.6" fill="#222"/>
<rect x="242.90" y="164.40" width="12.30" height="6.40" class="T" fill="none" rx="0"/>
<line x1="244.50" y1="170.20" x2="248.10" y2="165.00" class="m"/>
<line x1="248.40" y1="170.20" x2="252.00" y2="165.00" class="m"/>
<line x1="252.30" y1="170.20" x2="254.80" y2="165.00" class="m"/>
<line x1="127.90" y1="168.00" x2="127.90" y2="251.50" class="t"/>
<line x1="138.50" y1="172.00" x2="138.50" y2="232.50" class="t"/>
<line x1="159.60" y1="193.00" x2="159.60" y2="213.00" class="t"/>
<line x1="227.20" y1="193.00" x2="227.20" y2="213.00" class="t"/>
<line x1="249.00" y1="172.00" x2="249.00" y2="232.50" class="t"/>
<line x1="285.60" y1="159.50" x2="285.60" y2="251.50" class="t"/>
<line x1="259.60" y1="172.00" x2="259.60" y2="177.00" class="t"/>
<line x1="159.60" y1="209.90" x2="227.20" y2="209.90" class="t"/>
<polygon points="159.60,209.90 168.60,208.60 168.60,211.20" fill="#1a1a1a" stroke="none"/>
<polygon points="227.20,209.90 218.20,211.20 218.20,208.60" fill="#1a1a1a" stroke="none"/>
<path transform="translate(184.10 207.60)" d="M6.20,-9.40 L3.72,-9.40 L3.22,-9.31 L2.85,-9.03 L2.59,-8.56 L1.71,-6.11 L1.64,-5.64 L1.81,-5.36 L2.24,-5.26 L3.71,-5.26 L4.05,-5.22 L4.32,-5.08 L4.53,-4.84 L4.58,-4.75 L4.71,-4.45 L4.75,-4.12 L4.69,-3.75 L4.09,-1.51 L3.95,-1.15 L3.74,-0.82 L3.45,-0.52 L3.34,-0.42 L3.01,-0.19 L2.66,-0.05 L2.30,-0.00 L1.39,-0.00 L1.05,-0.05 L0.78,-0.19 L0.57,-0.42 L0.25,-0.94 M8.16,-0.00 L8.27,-0.00 L8.38,-0.01 L8.50,-0.03 L8.69,-0.07 L8.89,-0.12 L9.09,-0.20 L9.28,-0.29 L9.34,-0.33 L9.53,-0.45 L9.70,-0.59 L9.86,-0.74 L9.91,-0.80 L10.05,-0.97 L10.17,-1.15 L10.27,-1.34 L10.30,-1.40 L10.39,-1.60 L10.46,-1.79 L10.52,-1.99 L11.97,-7.41 L12.02,-7.61 L12.05,-7.80 L12.07,-8.00 L12.07,-8.06 L12.08,-8.25 L12.05,-8.43 L12.00,-8.60 L11.98,-8.66 L11.90,-8.81 L11.81,-8.95 L11.69,-9.07 L11.64,-9.11 L11.50,-9.20 L11.35,-9.28 L11.17,-9.33 L11.00,-9.37 L10.89,-9.39 L10.79,-9.40 L10.68,-9.40 L10.64,-9.40 L10.53,-9.40 L10.42,-9.39 L10.30,-9.37 L10.11,-9.33 L9.91,-9.28 L9.71,-9.20 L9.52,-9.11 L9.46,-9.07 L9.27,-8.95 L9.10,-8.81 L8.94,-8.66 L8.89,-8.60 L8.75,-8.43 L8.63,-8.25 L8.53,-8.06 L8.50,-8.00 L8.41,-7.80 L8.34,-7.61 L8.28,-7.41 L6.83,-1.99 L6.78,-1.79 L6.75,-1.60 L6.73,-1.40 L6.73,-1.34 L6.72,-1.15 L6.75,-0.97 L6.80,-0.80 L6.82,-0.74 L6.90,-0.59 L6.99,-0.45 L7.11,-0.33 L7.16,-0.29 L7.30,-0.20 L7.45,-0.12 L7.63,-0.07 L7.80,-0.03 L7.91,-0.01 L8.01,-0.00 L8.12,-0.00 L8.16,-0.00 M14.46,-0.00 L14.57,-0.00 L14.68,-0.01 L14.79,-0.03 L14.99,-0.07 L15.19,-0.12 L15.39,-0.20 L15.58,-0.29 L15.64,-0.33 L15.83,-0.45 L16.00,-0.59 L16.16,-0.74 L16.21,-0.80 L16.35,-0.97 L16.47,-1.15 L16.57,-1.34 L16.60,-1.40 L16.68,-1.60 L16.76,-1.79 L16.81,-1.99 L18.27,-7.41 L18.31,-7.61 L18.35,-7.80 L18.37,-8.00 L18.37,-8.06 L18.37,-8.25 L18.35,-8.43 L18.30,-8.60 L18.28,-8.66 L18.20,-8.81 L18.10,-8.95 L17.98,-9.07 L17.94,-9.11 L17.80,-9.20 L17.64,-9.28 L17.47,-9.33 L17.30,-9.37 L17.19,-9.39 L17.09,-9.40 L16.98,-9.40 L16.94,-9.40 L16.83,-9.40 L16.72,-9.39 L16.60,-9.37 L16.41,-9.33 L16.21,-9.28 L16.01,-9.20 L15.82,-9.11 L15.75,-9.07 L15.57,-8.95 L15.40,-8.81 L15.24,-8.66 L15.19,-8.60 L15.05,-8.43 L14.93,-8.25 L14.83,-8.06 L14.80,-8.00 L14.71,-7.80 L14.64,-7.61 L14.58,-7.41 L13.13,-1.99 L13.08,-1.79 L13.05,-1.60 L13.03,-1.40 L13.02,-1.34 L13.02,-1.15 L13.05,-0.97 L13.10,-0.80 L13.12,-0.74 L13.19,-0.59 L13.29,-0.45 L13.41,-0.33 L13.46,-0.29 L13.60,-0.20 L13.75,-0.12 L13.92,-0.07 L14.10,-0.03 L14.20,-0.01 L14.31,-0.00 L14.42,-0.00 L14.46,-0.00" fill="none" stroke="#262626" stroke-width="0.95" stroke-linecap="round" stroke-linejoin="round"/>
<line x1="138.50" y1="229.00" x2="249.00" y2="229.00" class="t"/>
<polygon points="138.50,229.00 147.50,227.70 147.50,230.30" fill="#1a1a1a" stroke="none"/>
<polygon points="249.00,229.00 240.00,230.30 240.00,227.70" fill="#1a1a1a" stroke="none"/>
<path transform="translate(185.30 226.30)" d="M2.47,-9.20 L5.75,-9.20 L5.92,-9.16 L6.00,-9.05 L5.98,-8.87 L5.96,-8.80 L5.89,-8.58 L5.80,-8.36 L5.69,-8.15 L0.90,0.00 M8.18,-8.28 L8.76,-8.79 L9.09,-9.02 L9.43,-9.15 L9.79,-9.20 L10.68,-9.20 L11.01,-9.15 L11.28,-9.02 L11.48,-8.79 L11.54,-8.69 L11.66,-8.40 L11.69,-8.08 L11.64,-7.72 L11.35,-6.63 L11.21,-6.27 L11.00,-5.95 L10.72,-5.66 L10.62,-5.57 L10.29,-5.34 L9.95,-5.20 L9.59,-5.15 L8.43,-5.15 M10.14,-5.15 L10.45,-4.65 L10.58,-4.35 L10.61,-4.03 L10.56,-3.68 L9.97,-1.48 L9.83,-1.12 L9.62,-0.80 L9.34,-0.51 L9.24,-0.41 L8.91,-0.18 L8.57,-0.05 L8.21,-0.00 L7.32,-0.00 L6.99,-0.05 L6.72,-0.18 L6.52,-0.41 L6.21,-0.92 M13.75,-0.00 L13.86,-0.00 L13.97,-0.01 L14.08,-0.03 L14.27,-0.07 L14.47,-0.12 L14.66,-0.19 L14.85,-0.29 L14.91,-0.32 L15.09,-0.44 L15.26,-0.57 L15.41,-0.73 L15.46,-0.78 L15.60,-0.95 L15.72,-1.12 L15.82,-1.31 L15.85,-1.37 L15.93,-1.56 L16.00,-1.75 L16.06,-1.95 L17.48,-7.25 L17.52,-7.45 L17.56,-7.64 L17.58,-7.83 L17.58,-7.89 L17.58,-8.08 L17.56,-8.25 L17.51,-8.42 L17.49,-8.47 L17.41,-8.63 L17.32,-8.76 L17.20,-8.88 L17.16,-8.91 L17.02,-9.01 L16.87,-9.08 L16.70,-9.13 L16.53,-9.17 L16.43,-9.19 L16.32,-9.20 L16.21,-9.20 L16.18,-9.20 L16.07,-9.20 L15.96,-9.19 L15.85,-9.17 L15.66,-9.13 L15.46,-9.08 L15.27,-9.01 L15.08,-8.91 L15.02,-8.88 L14.84,-8.76 L14.67,-8.63 L14.52,-8.47 L14.47,-8.42 L14.33,-8.25 L14.21,-8.08 L14.11,-7.89 L14.08,-7.83 L14.00,-7.64 L13.93,-7.45 L13.87,-7.25 L12.45,-1.95 L12.40,-1.75 L12.37,-1.56 L12.35,-1.37 L12.35,-1.31 L12.35,-1.12 L12.37,-0.95 L12.42,-0.78 L12.44,-0.73 L12.51,-0.57 L12.61,-0.44 L12.73,-0.32 L12.77,-0.29 L12.91,-0.19 L13.06,-0.12 L13.23,-0.07 L13.40,-0.03 L13.50,-0.01 L13.61,-0.00 L13.71,-0.00 L13.75,-0.00" fill="none" stroke="#262626" stroke-width="0.95" stroke-linecap="round" stroke-linejoin="round"/>
<line x1="127.90" y1="248.20" x2="285.60" y2="248.20" class="t"/>
<polygon points="127.90,248.20 136.90,246.90 136.90,249.50" fill="#1a1a1a" stroke="none"/>
<polygon points="285.60,248.20 276.60,249.50 276.60,246.90" fill="#1a1a1a" stroke="none"/>
<path transform="translate(174.00 245.40)" d="M0.36,0.00 L1.35,-0.00 L1.88,-0.07 L2.36,-0.30 L2.82,-0.67 L3.12,-0.98 L3.53,-1.45 L3.85,-1.95 L4.11,-2.48 L4.26,-2.86 L4.47,-3.41 L4.65,-3.96 L4.81,-4.51 L5.68,-7.72 L5.73,-8.08 L5.70,-8.40 L5.57,-8.69 L5.51,-8.79 L5.31,-9.02 L5.05,-9.15 L4.71,-9.20 L3.82,-9.20 L3.47,-9.15 L3.13,-9.02 L2.80,-8.79 L2.69,-8.69 L2.41,-8.40 L2.21,-8.08 L2.07,-7.72 L1.40,-5.22 L1.35,-4.88 L1.39,-4.58 L1.52,-4.32 L1.58,-4.24 L1.79,-4.03 L2.05,-3.91 L2.36,-3.86 L3.31,-3.86 L3.65,-3.91 L3.98,-4.03 L4.30,-4.24 L4.86,-4.69 M7.92,-9.20 L11.21,-9.20 L11.38,-9.16 L11.45,-9.05 L11.44,-8.87 L11.42,-8.80 L11.35,-8.58 L11.26,-8.36 L11.15,-8.15 L6.36,0.00 M16.63,-9.20 L15.64,-9.20 L15.11,-9.13 L14.62,-8.90 L14.17,-8.53 L13.86,-8.22 L13.46,-7.75 L13.13,-7.25 L12.88,-6.72 L12.73,-6.34 L12.52,-5.79 L12.33,-5.24 L12.17,-4.69 L11.31,-1.48 L11.26,-1.12 L11.29,-0.80 L11.42,-0.51 L11.47,-0.41 L11.68,-0.18 L11.94,-0.05 L12.27,-0.00 L13.17,-0.00 L13.52,-0.05 L13.86,-0.18 L14.19,-0.41 L14.29,-0.51 L14.57,-0.80 L14.78,-1.12 L14.92,-1.48 L15.59,-3.98 L15.64,-4.32 L15.60,-4.62 L15.47,-4.88 L15.41,-4.96 L15.20,-5.17 L14.94,-5.29 L14.62,-5.34 L13.67,-5.34 L13.34,-5.29 L13.01,-5.17 L12.69,-4.96 L12.12,-4.51 M16.49,-0.09 L17.21,-0.09 M22.01,0.00 L24.26,-8.37 L24.32,-8.75 L24.21,-8.78 L23.93,-8.45 L20.08,-3.17 L19.98,-3.02 L19.91,-2.86 L19.85,-2.70 L19.84,-2.64 L19.83,-2.50 L19.88,-2.42 L20.01,-2.39 L23.74,-2.39" fill="none" stroke="#262626" stroke-width="0.95" stroke-linecap="round" stroke-linejoin="round"/>
<line x1="259.60" y1="173.70" x2="313.00" y2="173.70" class="t"/>
<polygon points="259.60,173.70 268.60,172.40 268.60,175.00" fill="#1a1a1a" stroke="none"/>
<polygon points="285.60,173.70 276.60,175.00 276.60,172.40" fill="#1a1a1a" stroke="none"/>
<path transform="translate(289.30 171.30)" d="M1.87,-6.99 L3.66,-8.58 L4.02,-8.83 L4.18,-8.76 L4.14,-8.37 L1.89,0.00 M5.65,-8.28 L6.23,-8.79 L6.56,-9.02 L6.90,-9.15 L7.26,-9.20 L8.15,-9.20 L8.48,-9.15 L8.75,-9.02 L8.95,-8.79 L9.00,-8.69 L9.13,-8.40 L9.16,-8.08 L9.11,-7.72 L8.82,-6.63 L8.68,-6.27 L8.47,-5.95 L8.19,-5.66 L8.09,-5.57 L7.76,-5.34 L7.42,-5.20 L7.06,-5.15 L5.90,-5.15 M7.61,-5.15 L7.92,-4.65 L8.04,-4.35 L8.08,-4.03 L8.02,-3.68 L7.44,-1.48 L7.30,-1.12 L7.09,-0.80 L6.81,-0.51 L6.70,-0.41 L6.38,-0.18 L6.04,-0.05 L5.68,-0.00 L4.79,-0.00 L4.46,-0.05 L4.19,-0.18 L3.99,-0.41 L3.68,-0.92 M10.87,-9.20 L14.15,-9.20 L14.32,-9.16 L14.40,-9.05 L14.38,-8.87 L14.36,-8.80 L14.29,-8.58 L14.20,-8.36 L14.09,-8.15 L9.30,0.00 M13.48,-0.09 L14.20,-0.09 M21.70,-9.20 L19.27,-9.20 L18.78,-9.11 L18.41,-8.83 L18.16,-8.38 L17.30,-5.98 L17.23,-5.52 L17.40,-5.24 L17.82,-5.15 L19.26,-5.15 L19.59,-5.11 L19.86,-4.97 L20.06,-4.74 L20.11,-4.65 L20.24,-4.35 L20.27,-4.03 L20.22,-3.68 L19.63,-1.48 L19.49,-1.12 L19.29,-0.80 L19.01,-0.51 L18.90,-0.41 L18.57,-0.18 L18.23,-0.05 L17.88,-0.00 L16.99,-0.00 L16.65,-0.05 L16.39,-0.18 L16.19,-0.41 L15.87,-0.92" fill="none" stroke="#262626" stroke-width="0.95" stroke-linecap="round" stroke-linejoin="round"/>
<line x1="276.9" y1="123" x2="276.9" y2="141.6" class="S"/>
<line x1="276.9" y1="179.2" x2="276.9" y2="197.8" class="S"/>
<line x1="253.50" y1="128.30" x2="268.00" y2="128.30" class="t"/>
<polygon points="276.20,128.30 265.70,129.85 265.70,126.75" fill="#1a1a1a" stroke="none"/>
<line x1="253.50" y1="192.20" x2="268.00" y2="192.20" class="t"/>
<polygon points="276.20,192.20 265.70,193.75 265.70,190.65" fill="#1a1a1a" stroke="none"/>
<path transform="translate(254.80 125.70)" d="M9.95,-13.30 L5.56,-13.30 L4.85,-13.17 L4.32,-12.77 L3.97,-12.11 L0.39,-1.19 L0.31,-0.53 L0.58,-0.13 L1.20,-0.00 L3.94,-0.00 L4.50,-0.07 L5.03,-0.27 L5.55,-0.60 L5.72,-0.73 L6.17,-1.16 L6.51,-1.64 L6.75,-2.17 L7.65,-4.92 L7.77,-5.52 L7.74,-6.07 L7.55,-6.57 L7.46,-6.73 L7.13,-7.13 L6.68,-7.37 L6.11,-7.45 L2.26,-7.45" fill="none" stroke="#262626" stroke-width="1.05" stroke-linecap="round" stroke-linejoin="round"/>
<path transform="translate(254.90 208.40)" d="M9.95,-13.30 L5.56,-13.30 L4.85,-13.17 L4.32,-12.77 L3.97,-12.11 L0.39,-1.19 L0.31,-0.53 L0.58,-0.13 L1.20,-0.00 L3.94,-0.00 L4.50,-0.07 L5.03,-0.27 L5.55,-0.60 L5.72,-0.73 L6.17,-1.16 L6.51,-1.64 L6.75,-2.17 L7.65,-4.92 L7.77,-5.52 L7.74,-6.07 L7.55,-6.57 L7.46,-6.73 L7.13,-7.13 L6.68,-7.37 L6.11,-7.45 L2.26,-7.45" fill="none" stroke="#262626" stroke-width="1.05" stroke-linecap="round" stroke-linejoin="round"/>
<path transform="translate(188.10 95.60)" d="M0.00,0.00 L8.31,-12.82 L8.44,-12.98 L8.60,-13.07 L8.78,-13.10 L8.85,-13.10 L9.01,-13.07 L9.09,-12.97 L9.09,-12.81 L6.81,0.00 M3.00,-4.85 L7.72,-4.85" fill="none" stroke="#262626" stroke-width="1.05" stroke-linecap="round" stroke-linejoin="round"/>
<line x1="204.20" y1="90.80" x2="210.80" y2="90.80" class="m2"/>
<path transform="translate(216.80 95.60)" d="M0.00,0.00 L8.31,-12.82 L8.44,-12.98 L8.60,-13.07 L8.78,-13.10 L8.85,-13.10 L9.01,-13.07 L9.09,-12.97 L9.09,-12.81 L6.81,0.00 M3.00,-4.85 L7.72,-4.85" fill="none" stroke="#262626" stroke-width="1.05" stroke-linecap="round" stroke-linejoin="round"/>
<line x1="379" y1="153.0" x2="470" y2="153.0" class="c"/>
<line x1="465.00" y1="153.00" x2="506.00" y2="153.00" class="t"/>
<line x1="425.4" y1="108" x2="425.4" y2="199" class="c"/>
<circle cx="425.40" cy="153.00" r="38.60" class="T" fill="none"/>
<circle cx="425.40" cy="153.00" r="36.50" class="M" fill="none"/>
<line x1="426.60" y1="136.00" x2="426.60" y2="116.50" class="M"/>
<line x1="424.20" y1="136.00" x2="424.20" y2="116.50" class="M"/>
<line x1="440.72" y1="145.54" x2="457.44" y2="135.89" class="M"/>
<line x1="439.52" y1="143.46" x2="456.24" y2="133.81" class="M"/>
<line x1="411.28" y1="143.46" x2="394.56" y2="133.81" class="M"/>
<line x1="410.08" y1="145.54" x2="393.36" y2="135.89" class="M"/>
<line x1="424.30" y1="172.20" x2="424.30" y2="189.40" class="M"/>
<line x1="426.50" y1="172.20" x2="426.50" y2="189.40" class="M"/>
<rect x="397.20" y="167.50" width="56.60" height="4.70" class="M" fill="none" rx="0"/>
<line x1="407.00" y1="167.50" x2="407.00" y2="172.20" class="M"/>
<line x1="444.00" y1="167.50" x2="444.00" y2="172.20" class="M"/>
<polyline points="397.20,167.50 409.80,160.60" class="M" fill="none"/>
<polyline points="401.50,167.50 411.50,162.50" class="M" fill="none"/>
<polyline points="453.80,167.50 441.20,160.60" class="M" fill="none"/>
<polyline points="449.50,167.50 439.50,162.50" class="M" fill="none"/>
<circle cx="425.4" cy="153.0" r="17" fill="white" stroke="#111" stroke-width="1.7"/>
<circle cx="418.20" cy="140.50" r="1.55" class="M" fill="none"/>
<circle cx="432.40" cy="140.50" r="1.55" class="M" fill="none"/>
<circle cx="410.90" cy="153.20" r="1.55" class="M" fill="none"/>
<circle cx="439.80" cy="153.20" r="1.55" class="M" fill="none"/>
<circle cx="418.60" cy="165.60" r="1.55" class="M" fill="none"/>
<circle cx="432.40" cy="165.60" r="1.55" class="M" fill="none"/>
<circle cx="415.00" cy="142.80" r="0.70" class="M" fill="#222"/>
<circle cx="435.70" cy="142.80" r="0.70" class="M" fill="#222"/>
<circle cx="415.50" cy="163.20" r="0.70" class="M" fill="#222"/>
<circle cx="435.50" cy="163.20" r="0.70" class="M" fill="#222"/>
<line x1="389.50" y1="167.40" x2="466.30" y2="138.40" class="t"/>
<line x1="466.30" y1="138.40" x2="494.80" y2="138.40" class="t"/>
<polygon points="388.90,167.60 396.87,163.23 397.78,165.66" fill="#1a1a1a" stroke="none"/>
<polygon points="463.00,139.80 455.03,144.17 454.12,141.74" fill="#1a1a1a" stroke="none"/>
<path transform="translate(469.20 135.50)" d="M-0.15,0.57 L5.42,-9.12 M1.27,-2.12 L1.49,-1.79 L1.82,-1.59 L2.25,-1.52 L2.68,-1.52 L3.14,-1.58 L3.59,-1.75 L4.03,-2.03 L4.17,-2.15 L4.55,-2.51 L4.82,-2.93 L5.00,-3.39 L5.25,-4.32 L5.35,-4.85 L5.34,-5.34 L5.24,-5.81 L5.18,-5.97 L4.96,-6.35 L4.62,-6.57 L4.16,-6.65 L3.80,-6.65 L3.33,-6.59 L2.88,-6.42 L2.45,-6.14 L2.30,-6.02 L1.93,-5.66 L1.65,-5.24 L1.47,-4.78 L1.15,-3.59 L1.07,-3.11 L1.09,-2.67 L1.21,-2.25 L1.27,-2.12 M9.90,0.00 L12.21,-8.64 L12.28,-9.03 L12.16,-9.06 L11.88,-8.73 L7.90,-3.27 L7.80,-3.11 L7.72,-2.95 L7.66,-2.78 L7.65,-2.73 L7.64,-2.58 L7.70,-2.50 L7.83,-2.47 L11.67,-2.47 M15.15,-0.00 L15.27,-0.00 L15.38,-0.01 L15.49,-0.03 L15.69,-0.07 L15.89,-0.12 L16.09,-0.20 L16.29,-0.30 L16.35,-0.33 L16.54,-0.45 L16.71,-0.59 L16.87,-0.75 L16.92,-0.81 L17.07,-0.98 L17.19,-1.16 L17.29,-1.35 L17.32,-1.42 L17.40,-1.61 L17.48,-1.81 L17.54,-2.01 L19.00,-7.49 L19.05,-7.69 L19.09,-7.89 L19.11,-8.08 L19.11,-8.15 L19.11,-8.34 L19.09,-8.52 L19.04,-8.69 L19.01,-8.75 L18.94,-8.91 L18.84,-9.05 L18.72,-9.17 L18.67,-9.20 L18.53,-9.30 L18.37,-9.38 L18.20,-9.43 L18.02,-9.47 L17.92,-9.49 L17.81,-9.50 L17.70,-9.50 L17.66,-9.50 L17.55,-9.50 L17.44,-9.49 L17.32,-9.47 L17.12,-9.43 L16.92,-9.38 L16.72,-9.30 L16.53,-9.20 L16.46,-9.17 L16.28,-9.05 L16.11,-8.91 L15.94,-8.75 L15.89,-8.69 L15.75,-8.52 L15.63,-8.34 L15.53,-8.15 L15.50,-8.08 L15.41,-7.89 L15.34,-7.69 L15.28,-7.49 L13.81,-2.01 L13.76,-1.81 L13.73,-1.61 L13.71,-1.42 L13.71,-1.35 L13.70,-1.16 L13.73,-0.98 L13.78,-0.81 L13.80,-0.75 L13.88,-0.59 L13.98,-0.45 L14.10,-0.33 L14.14,-0.30 L14.28,-0.20 L14.44,-0.12 L14.62,-0.07 L14.79,-0.03 L14.90,-0.01 L15.01,-0.00 L15.12,-0.00 L15.15,-0.00 M21.51,-0.00 L21.62,-0.00 L21.74,-0.01 L21.85,-0.03 L22.05,-0.07 L22.25,-0.12 L22.45,-0.20 L22.64,-0.30 L22.71,-0.33 L22.89,-0.45 L23.07,-0.59 L23.23,-0.75 L23.28,-0.81 L23.42,-0.98 L23.54,-1.16 L23.65,-1.35 L23.68,-1.42 L23.76,-1.61 L23.83,-1.81 L23.89,-2.01 L25.36,-7.49 L25.41,-7.69 L25.44,-7.89 L25.46,-8.08 L25.47,-8.15 L25.47,-8.34 L25.44,-8.52 L25.39,-8.69 L25.37,-8.75 L25.30,-8.91 L25.20,-9.05 L25.08,-9.17 L25.03,-9.20 L24.89,-9.30 L24.73,-9.38 L24.56,-9.43 L24.38,-9.47 L24.27,-9.49 L24.17,-9.50 L24.06,-9.50 L24.02,-9.50 L23.91,-9.50 L23.79,-9.49 L23.68,-9.47 L23.48,-9.43 L23.28,-9.38 L23.08,-9.30 L22.89,-9.20 L22.82,-9.17 L22.64,-9.05 L22.46,-8.91 L22.30,-8.75 L22.25,-8.69 L22.11,-8.52 L21.99,-8.34 L21.88,-8.15 L21.85,-8.08 L21.77,-7.89 L21.70,-7.69 L21.64,-7.49 L20.17,-2.01 L20.12,-1.81 L20.09,-1.61 L20.07,-1.42 L20.06,-1.35 L20.06,-1.16 L20.09,-0.98 L20.14,-0.81 L20.16,-0.75 L20.23,-0.59 L20.33,-0.45 L20.46,-0.33 L20.50,-0.30 L20.64,-0.20 L20.80,-0.12 L20.97,-0.07 L21.15,-0.03 L21.26,-0.01 L21.36,-0.00 L21.47,-0.00 L21.51,-0.00" fill="none" stroke="#262626" stroke-width="0.95" stroke-linecap="round" stroke-linejoin="round"/>
<line x1="464.00" y1="167.40" x2="487.00" y2="167.40" class="t"/>
<line x1="464.00" y1="171.80" x2="506.00" y2="171.80" class="t"/>
<line x1="482.40" y1="152.50" x2="482.40" y2="167.40" class="t"/>
<polygon points="482.40,167.40 481.10,158.40 483.70,158.40" fill="#1a1a1a" stroke="none"/>
<line x1="482.40" y1="171.80" x2="482.40" y2="197.00" class="t"/>
<polygon points="482.40,171.80 483.70,180.80 481.10,180.80" fill="#1a1a1a" stroke="none"/>
<path transform="translate(479.50 196.90) rotate(-90.00)" d="M2.19,-8.19 L2.77,-8.69 L3.09,-8.92 L3.43,-9.05 L3.78,-9.10 L4.66,-9.10 L4.99,-9.05 L5.25,-8.92 L5.45,-8.69 L5.51,-8.60 L5.63,-8.31 L5.67,-7.99 L5.61,-7.64 L5.40,-6.82 L5.20,-6.30 L4.92,-5.80 L4.54,-5.34 L0.51,-1.12 L0.34,-0.91 L0.21,-0.69 L0.12,-0.45 L0.10,-0.37 L0.08,-0.16 L0.17,-0.04 L0.36,-0.00 L3.57,0.00 M9.83,-9.10 L13.08,-9.10 L13.25,-9.06 L13.33,-8.95 L13.31,-8.77 L13.29,-8.70 L13.22,-8.48 L13.13,-8.27 L13.02,-8.06 L8.29,0.00" fill="none" stroke="#262626" stroke-width="0.95" stroke-linecap="round" stroke-linejoin="round"/>
<line x1="501.50" y1="138.30" x2="501.50" y2="153.00" class="t"/>
<polygon points="501.50,153.00 500.20,144.00 502.80,144.00" fill="#1a1a1a" stroke="none"/>
<line x1="501.50" y1="171.80" x2="501.50" y2="202.00" class="t"/>
<polygon points="501.50,171.80 502.80,180.80 500.20,180.80" fill="#1a1a1a" stroke="none"/>
<path transform="translate(499.00 199.80) rotate(-90.00)" d="M1.91,-7.14 L3.74,-8.76 L4.11,-9.02 L4.27,-8.95 L4.23,-8.55 L1.93,0.00 M5.88,-0.00 L5.99,-0.00 L6.10,-0.01 L6.21,-0.03 L6.41,-0.07 L6.61,-0.12 L6.80,-0.20 L7.00,-0.29 L7.06,-0.33 L7.25,-0.45 L7.42,-0.59 L7.58,-0.74 L7.63,-0.80 L7.77,-0.97 L7.89,-1.15 L7.99,-1.34 L8.02,-1.40 L8.10,-1.60 L8.17,-1.79 L8.23,-1.99 L9.69,-7.41 L9.73,-7.61 L9.77,-7.80 L9.79,-8.00 L9.79,-8.06 L9.79,-8.25 L9.77,-8.43 L9.72,-8.60 L9.70,-8.66 L9.62,-8.81 L9.52,-8.95 L9.40,-9.07 L9.36,-9.11 L9.22,-9.20 L9.06,-9.28 L8.89,-9.33 L8.71,-9.37 L8.61,-9.39 L8.50,-9.40 L8.39,-9.40 L8.36,-9.40 L8.25,-9.40 L8.13,-9.39 L8.02,-9.37 L7.82,-9.33 L7.63,-9.28 L7.43,-9.20 L7.24,-9.11 L7.17,-9.07 L6.99,-8.95 L6.82,-8.81 L6.66,-8.66 L6.61,-8.60 L6.47,-8.43 L6.35,-8.25 L6.25,-8.06 L6.22,-8.00 L6.13,-7.80 L6.06,-7.61 L6.00,-7.41 L4.55,-1.99 L4.50,-1.79 L4.47,-1.60 L4.45,-1.40 L4.44,-1.34 L4.44,-1.15 L4.47,-0.97 L4.52,-0.80 L4.54,-0.74 L4.61,-0.59 L4.71,-0.45 L4.83,-0.33 L4.88,-0.29 L5.02,-0.20 L5.17,-0.12 L5.34,-0.07 L5.52,-0.03 L5.62,-0.01 L5.73,-0.00 L5.84,-0.00 L5.88,-0.00 M11.46,-0.00 L11.57,-0.00 L11.68,-0.01 L11.79,-0.03 L11.99,-0.07 L12.19,-0.12 L12.39,-0.20 L12.58,-0.29 L12.64,-0.33 L12.83,-0.45 L13.00,-0.59 L13.16,-0.74 L13.21,-0.80 L13.35,-0.97 L13.47,-1.15 L13.57,-1.34 L13.60,-1.40 L13.68,-1.60 L13.76,-1.79 L13.81,-1.99 L15.27,-7.41 L15.31,-7.61 L15.35,-7.80 L15.37,-8.00 L15.37,-8.06 L15.37,-8.25 L15.35,-8.43 L15.30,-8.60 L15.28,-8.66 L15.20,-8.81 L15.10,-8.95 L14.98,-9.07 L14.94,-9.11 L14.80,-9.20 L14.64,-9.28 L14.47,-9.33 L14.30,-9.37 L14.19,-9.39 L14.09,-9.40 L13.98,-9.40 L13.94,-9.40 L13.83,-9.40 L13.72,-9.39 L13.60,-9.37 L13.41,-9.33 L13.21,-9.28 L13.01,-9.20 L12.82,-9.11 L12.75,-9.07 L12.57,-8.95 L12.40,-8.81 L12.24,-8.66 L12.19,-8.60 L12.05,-8.43 L11.93,-8.25 L11.83,-8.06 L11.80,-8.00 L11.71,-7.80 L11.64,-7.61 L11.58,-7.41 L10.13,-1.99 L10.08,-1.79 L10.05,-1.60 L10.03,-1.40 L10.02,-1.34 L10.02,-1.15 L10.05,-0.97 L10.10,-0.80 L10.12,-0.74 L10.19,-0.59 L10.29,-0.45 L10.41,-0.33 L10.46,-0.29 L10.60,-0.20 L10.75,-0.12 L10.92,-0.07 L11.10,-0.03 L11.20,-0.01 L11.31,-0.00 L11.42,-0.00 L11.46,-0.00" fill="none" stroke="#262626" stroke-width="0.95" stroke-linecap="round" stroke-linejoin="round"/>
<line x1="397.30" y1="172.50" x2="397.30" y2="214.00" class="t"/>
<line x1="453.60" y1="172.50" x2="453.60" y2="214.00" class="t"/>
<line x1="397.30" y1="210.10" x2="453.60" y2="210.10" class="t"/>
<polygon points="397.30,210.10 406.30,208.80 406.30,211.40" fill="#1a1a1a" stroke="none"/>
<polygon points="453.60,210.10 444.60,211.40 444.60,208.80" fill="#1a1a1a" stroke="none"/>
<path transform="translate(415.00 207.40)" d="M2.12,-7.92 L2.68,-8.40 L2.99,-8.62 L3.32,-8.76 L3.66,-8.80 L4.51,-8.80 L4.83,-8.76 L5.08,-8.62 L5.27,-8.40 L5.33,-8.32 L5.45,-8.04 L5.48,-7.73 L5.43,-7.39 L5.22,-6.60 L5.03,-6.09 L4.75,-5.61 L4.39,-5.16 L0.49,-1.08 L0.33,-0.88 L0.20,-0.67 L0.12,-0.44 L0.10,-0.36 L0.08,-0.16 L0.17,-0.04 L0.35,-0.00 L3.45,0.00 M6.39,0.00 L7.34,-0.00 L7.84,-0.07 L8.31,-0.29 L8.74,-0.64 L9.04,-0.94 L9.42,-1.39 L9.73,-1.86 L9.98,-2.37 L10.12,-2.74 L10.32,-3.26 L10.50,-3.78 L10.65,-4.31 L11.48,-7.39 L11.53,-7.73 L11.49,-8.04 L11.37,-8.32 L11.32,-8.40 L11.13,-8.62 L10.87,-8.76 L10.56,-8.80 L9.70,-8.80 L9.36,-8.76 L9.04,-8.62 L8.72,-8.40 L8.62,-8.32 L8.35,-8.04 L8.16,-7.73 L8.03,-7.39 L7.38,-4.99 L7.34,-4.67 L7.38,-4.39 L7.50,-4.13 L7.56,-4.05 L7.75,-3.85 L8.00,-3.74 L8.31,-3.70 L9.22,-3.70 L9.54,-3.74 L9.85,-3.85 L10.15,-4.05 L10.70,-4.49 M17.90,-8.80 L15.57,-8.80 L15.11,-8.71 L14.76,-8.45 L14.51,-8.01 L13.69,-5.72 L13.62,-5.28 L13.79,-5.02 L14.19,-4.93 L15.56,-4.93 L15.88,-4.88 L16.14,-4.75 L16.33,-4.53 L16.38,-4.44 L16.50,-4.16 L16.54,-3.86 L16.48,-3.52 L15.92,-1.41 L15.79,-1.07 L15.59,-0.76 L15.32,-0.48 L15.22,-0.40 L14.91,-0.18 L14.58,-0.04 L14.24,-0.00 L13.39,-0.00 L13.07,-0.04 L12.82,-0.18 L12.63,-0.40 L12.33,-0.88" fill="none" stroke="#262626" stroke-width="0.95" stroke-linecap="round" stroke-linejoin="round"/>
<line x1="425.3" y1="85.5" x2="425.3" y2="104.3" class="S"/>
<line x1="425.2" y1="217.2" x2="425.2" y2="235.6" class="S"/>
<line x1="432.00" y1="90.90" x2="448.80" y2="90.90" class="t"/>
<polygon points="426.00,90.90 436.50,89.35 436.50,92.45" fill="#1a1a1a" stroke="none"/>
<line x1="432.00" y1="230.20" x2="448.80" y2="230.20" class="t"/>
<polygon points="426.00,230.20 436.50,228.65 436.50,231.75" fill="#1a1a1a" stroke="none"/>
<path transform="translate(440.60 87.70)" d="M0.00,0.00 L8.25,-12.73 L8.38,-12.88 L8.53,-12.97 L8.72,-13.00 L8.78,-13.00 L8.94,-12.97 L9.02,-12.87 L9.02,-12.71 L6.76,0.00 M2.98,-4.81 L7.66,-4.81" fill="none" stroke="#262626" stroke-width="1.05" stroke-linecap="round" stroke-linejoin="round"/>
<path transform="translate(440.40 245.90)" d="M0.00,0.00 L8.06,-12.43 L8.18,-12.58 L8.34,-12.67 L8.51,-12.70 L8.58,-12.70 L8.73,-12.67 L8.81,-12.57 L8.81,-12.42 L6.60,0.00 M2.91,-4.70 L7.48,-4.70" fill="none" stroke="#262626" stroke-width="1.05" stroke-linecap="round" stroke-linejoin="round"/>
<line x1="110" y1="372.2" x2="298" y2="372.2" class="c"/>
<polyline points="192.20,333.80 159.70,333.80 159.70,410.50 192.20,410.50" class="M" fill="none"/>
<polyline points="194.40,333.80 227.20,333.80 227.20,410.50 194.40,410.50" class="M" fill="none"/>
<path d="M192.2,333.8 q0.7,9.6 0,19.2 q-0.7,9.6 0,19.2 q0.7,9.6 0,19.2 q-0.7,9.6 0,19.1" class="t" fill="none"/>
<path d="M194.4,333.8 q0.7,9.6 0,19.2 q-0.7,9.6 0,19.2 q0.7,9.6 0,19.2 q-0.7,9.6 0,19.1" class="t" fill="none"/>
<line x1="159.70" y1="372.20" x2="227.20" y2="372.20" class="T"/>
<line x1="147.50" y1="365.20" x2="159.70" y2="365.20" class="M"/>
<line x1="147.50" y1="379.30" x2="159.70" y2="379.30" class="M"/>
<line x1="227.20" y1="365.20" x2="239.60" y2="365.20" class="M"/>
<line x1="227.20" y1="379.30" x2="239.60" y2="379.30" class="M"/>
<polyline points="259.00,366.40 284.00,366.40 285.60,368.00 285.60,376.70 284.00,378.30 259.00,378.30" class="M" fill="none"/>
<line x1="283.80" y1="366.40" x2="283.80" y2="378.30" class="t"/>
<rect x="262.00" y="370.30" width="21.00" height="3.40" class="M" fill="none" rx="1.7"/>
<line x1="262.60" y1="372.00" x2="282.40" y2="372.00" class="t"/>
<rect x="131.40" y="344.00" width="13.30" height="10.80" class="M" fill="none" rx="0"/>
<rect x="131.40" y="388.80" width="13.30" height="11.70" class="M" fill="none" rx="0"/>
<circle cx="137.90" cy="349.60" r="2.70" class="M" fill="none"/>
<circle cx="137.90" cy="394.50" r="2.70" class="M" fill="none"/>
<circle cx="137.90" cy="349.60" r="1.60" class="M" fill="none"/>
<circle cx="137.90" cy="394.50" r="1.60" class="M" fill="none"/>
<rect x="129.40" y="354.80" width="18.00" height="34.00" class="M" fill="none" rx="0"/>
<line x1="132.20" y1="354.80" x2="132.20" y2="388.80" class="M"/>
<line x1="144.60" y1="354.80" x2="144.60" y2="388.80" class="M"/>
<rect x="127.40" y="357.00" width="2.30" height="3.20" class="M" fill="#111" rx="0.8"/>
<rect x="147.10" y="357.00" width="2.30" height="3.20" class="M" fill="#111" rx="0.8"/>
<rect x="127.40" y="364.50" width="2.30" height="3.20" class="M" fill="#111" rx="0.8"/>
<rect x="147.10" y="364.50" width="2.30" height="3.20" class="M" fill="#111" rx="0.8"/>
<rect x="127.40" y="377.00" width="2.30" height="3.20" class="M" fill="#111" rx="0.8"/>
<rect x="147.10" y="377.00" width="2.30" height="3.20" class="M" fill="#111" rx="0.8"/>
<rect x="127.40" y="384.20" width="2.30" height="3.20" class="M" fill="#111" rx="0.8"/>
<rect x="147.10" y="384.20" width="2.30" height="3.20" class="M" fill="#111" rx="0.8"/>
<circle cx="140.70" cy="372.20" r="1.10" class="M" fill="#111"/>
<rect x="242.20" y="344.00" width="13.60" height="10.80" class="M" fill="none" rx="0"/>
<rect x="242.20" y="388.80" width="13.60" height="11.70" class="M" fill="none" rx="0"/>
<circle cx="248.80" cy="349.60" r="2.70" class="M" fill="none"/>
<circle cx="248.80" cy="394.50" r="2.70" class="M" fill="none"/>
<circle cx="248.80" cy="349.60" r="1.60" class="M" fill="none"/>
<circle cx="248.80" cy="394.50" r="1.60" class="M" fill="none"/>
<rect x="239.80" y="354.80" width="19.10" height="34.00" class="M" fill="none" rx="0"/>
<line x1="242.60" y1="354.80" x2="242.60" y2="388.80" class="M"/>
<line x1="256.10" y1="354.80" x2="256.10" y2="388.80" class="M"/>
<rect x="237.80" y="357.00" width="2.30" height="3.20" class="M" fill="#111" rx="0.8"/>
<rect x="258.60" y="357.00" width="2.30" height="3.20" class="M" fill="#111" rx="0.8"/>
<rect x="237.80" y="364.50" width="2.30" height="3.20" class="M" fill="#111" rx="0.8"/>
<rect x="258.60" y="364.50" width="2.30" height="3.20" class="M" fill="#111" rx="0.8"/>
<rect x="237.80" y="377.00" width="2.30" height="3.20" class="M" fill="#111" rx="0.8"/>
<rect x="258.60" y="377.00" width="2.30" height="3.20" class="M" fill="#111" rx="0.8"/>
<rect x="237.80" y="384.20" width="2.30" height="3.20" class="M" fill="#111" rx="0.8"/>
<rect x="258.60" y="384.20" width="2.30" height="3.20" class="M" fill="#111" rx="0.8"/>
<circle cx="246.50" cy="372.20" r="1.10" class="M" fill="#111"/>
<line x1="131.40" y1="317.00" x2="131.40" y2="344.00" class="t"/>
<line x1="144.70" y1="317.00" x2="144.70" y2="344.00" class="t"/>
<line x1="105.70" y1="321.20" x2="158.00" y2="321.20" class="t"/>
<polygon points="131.40,321.20 122.40,322.50 122.40,319.90" fill="#1a1a1a" stroke="none"/>
<polygon points="144.70,321.20 153.70,319.90 153.70,322.50" fill="#1a1a1a" stroke="none"/>
<path transform="translate(107.80 318.40)" d="M2.36,-8.80 L5.50,-8.80 L5.66,-8.76 L5.74,-8.66 L5.72,-8.48 L5.70,-8.41 L5.64,-8.20 L5.55,-8.00 L5.44,-7.79 L0.86,0.00 M7.13,-0.00 L7.24,-0.00 L7.34,-0.01 L7.45,-0.03 L7.63,-0.07 L7.82,-0.11 L8.00,-0.18 L8.18,-0.28 L8.24,-0.31 L8.42,-0.42 L8.58,-0.55 L8.73,-0.70 L8.77,-0.75 L8.91,-0.91 L9.02,-1.07 L9.11,-1.25 L9.14,-1.31 L9.22,-1.49 L9.29,-1.68 L9.34,-1.86 L10.70,-6.94 L10.74,-7.12 L10.78,-7.31 L10.80,-7.49 L10.80,-7.55 L10.80,-7.73 L10.78,-7.89 L10.73,-8.05 L10.71,-8.10 L10.64,-8.25 L10.55,-8.38 L10.44,-8.49 L10.39,-8.52 L10.26,-8.62 L10.12,-8.69 L9.96,-8.73 L9.79,-8.77 L9.69,-8.79 L9.59,-8.80 L9.49,-8.80 L9.46,-8.80 L9.35,-8.80 L9.25,-8.79 L9.14,-8.77 L8.96,-8.73 L8.77,-8.69 L8.59,-8.62 L8.41,-8.52 L8.35,-8.49 L8.18,-8.38 L8.02,-8.25 L7.87,-8.10 L7.82,-8.05 L7.69,-7.89 L7.57,-7.73 L7.48,-7.55 L7.45,-7.49 L7.37,-7.31 L7.31,-7.12 L7.25,-6.94 L5.89,-1.86 L5.85,-1.68 L5.82,-1.49 L5.80,-1.31 L5.79,-1.25 L5.79,-1.07 L5.81,-0.91 L5.86,-0.75 L5.88,-0.70 L5.95,-0.55 L6.04,-0.42 L6.16,-0.31 L6.20,-0.28 L6.33,-0.18 L6.47,-0.11 L6.64,-0.07 L6.80,-0.03 L6.90,-0.01 L7.00,-0.00 L7.10,-0.00 L7.13,-0.00" fill="none" stroke="#262626" stroke-width="0.95" stroke-linecap="round" stroke-linejoin="round"/>
<line x1="114.80" y1="349.60" x2="131.40" y2="349.60" class="t"/>
<line x1="114.80" y1="394.50" x2="131.40" y2="394.50" class="t"/>
<line x1="118.80" y1="349.60" x2="118.80" y2="394.50" class="t"/>
<polygon points="118.80,349.60 120.10,358.60 117.50,358.60" fill="#1a1a1a" stroke="none"/>
<polygon points="118.80,394.50 117.50,385.50 120.10,385.50" fill="#1a1a1a" stroke="none"/>
<path transform="translate(117.00 381.70) rotate(-90.00)" d="M2.17,-8.10 L2.74,-8.60 L3.06,-8.82 L3.39,-8.96 L3.74,-9.00 L4.61,-9.00 L4.94,-8.96 L5.20,-8.82 L5.39,-8.60 L5.45,-8.50 L5.57,-8.22 L5.61,-7.90 L5.55,-7.56 L5.34,-6.75 L5.15,-6.23 L4.86,-5.74 L4.49,-5.28 L0.50,-1.11 L0.33,-0.90 L0.21,-0.68 L0.12,-0.45 L0.10,-0.36 L0.08,-0.16 L0.17,-0.04 L0.36,-0.00 L3.53,0.00 M9.40,0.00 L11.60,-8.19 L11.66,-8.56 L11.55,-8.58 L11.28,-8.27 L7.51,-3.10 L7.42,-2.95 L7.34,-2.80 L7.29,-2.64 L7.27,-2.58 L7.26,-2.45 L7.32,-2.37 L7.45,-2.34 L11.09,-2.34 M14.94,-0.00 L15.05,-0.00 L15.16,-0.01 L15.27,-0.03 L15.45,-0.07 L15.64,-0.12 L15.83,-0.19 L16.02,-0.28 L16.08,-0.32 L16.25,-0.43 L16.42,-0.56 L16.57,-0.71 L16.62,-0.76 L16.75,-0.93 L16.87,-1.10 L16.96,-1.28 L16.99,-1.34 L17.07,-1.53 L17.14,-1.72 L17.20,-1.90 L18.59,-7.10 L18.63,-7.28 L18.67,-7.47 L18.69,-7.66 L18.69,-7.72 L18.69,-7.90 L18.67,-8.07 L18.62,-8.24 L18.60,-8.29 L18.53,-8.44 L18.43,-8.57 L18.32,-8.68 L18.28,-8.72 L18.14,-8.81 L17.99,-8.88 L17.83,-8.93 L17.66,-8.97 L17.56,-8.99 L17.46,-9.00 L17.35,-9.00 L17.32,-9.00 L17.21,-9.00 L17.10,-8.99 L17.00,-8.97 L16.81,-8.93 L16.62,-8.88 L16.43,-8.81 L16.24,-8.72 L16.18,-8.68 L16.01,-8.57 L15.84,-8.44 L15.69,-8.29 L15.64,-8.24 L15.51,-8.07 L15.39,-7.90 L15.30,-7.72 L15.27,-7.66 L15.19,-7.47 L15.12,-7.28 L15.06,-7.10 L13.67,-1.90 L13.63,-1.72 L13.59,-1.53 L13.57,-1.34 L13.57,-1.28 L13.57,-1.10 L13.59,-0.93 L13.64,-0.76 L13.66,-0.71 L13.73,-0.56 L13.83,-0.43 L13.94,-0.32 L13.98,-0.28 L14.12,-0.19 L14.27,-0.12 L14.43,-0.07 L14.60,-0.03 L14.70,-0.01 L14.80,-0.00 L14.91,-0.00 L14.94,-0.00" fill="none" stroke="#262626" stroke-width="0.95" stroke-linecap="round" stroke-linejoin="round"/>
<line x1="246.50" y1="316.00" x2="246.50" y2="344.00" class="t"/>
<line x1="251.10" y1="316.00" x2="251.10" y2="344.00" class="t"/>
<line x1="232.80" y1="319.50" x2="277.30" y2="319.50" class="t"/>
<polygon points="246.50,319.50 237.50,320.80 237.50,318.20" fill="#1a1a1a" stroke="none"/>
<polygon points="251.10,319.50 260.10,318.20 260.10,320.80" fill="#1a1a1a" stroke="none"/>
<path transform="translate(263.90 317.70)" d="M2.15,-8.01 L2.71,-8.50 L3.02,-8.72 L3.35,-8.86 L3.70,-8.90 L4.56,-8.90 L4.88,-8.86 L5.14,-8.72 L5.33,-8.50 L5.39,-8.41 L5.51,-8.13 L5.54,-7.82 L5.49,-7.47 L5.28,-6.67 L5.09,-6.16 L4.81,-5.67 L4.44,-5.22 L0.50,-1.10 L0.33,-0.89 L0.20,-0.67 L0.12,-0.44 L0.10,-0.36 L0.08,-0.16 L0.17,-0.04 L0.35,-0.00 L3.49,0.00 M8.22,0.00 L10.39,-8.10 L10.45,-8.46 L10.34,-8.49 L10.07,-8.18 L6.35,-3.07 L6.25,-2.92 L6.18,-2.77 L6.13,-2.61 L6.11,-2.55 L6.10,-2.42 L6.16,-2.34 L6.28,-2.31 L9.88,-2.31" fill="none" stroke="#262626" stroke-width="0.95" stroke-linecap="round" stroke-linejoin="round"/>
<line x1="256.00" y1="345.90" x2="299.20" y2="345.90" class="t"/>
<line x1="256.00" y1="352.30" x2="299.20" y2="352.30" class="t"/>
<line x1="294.50" y1="321.20" x2="294.50" y2="365.70" class="t"/>
<polygon points="294.50,345.90 293.20,336.90 295.80,336.90" fill="#1a1a1a" stroke="none"/>
<polygon points="294.50,352.30 295.80,361.30 293.20,361.30" fill="#1a1a1a" stroke="none"/>
<path transform="translate(291.40 333.20) rotate(-90.00)" d="M2.07,-7.74 L2.62,-8.21 L2.92,-8.43 L3.24,-8.56 L3.57,-8.60 L4.41,-8.60 L4.72,-8.56 L4.97,-8.43 L5.15,-8.21 L5.21,-8.13 L5.32,-7.85 L5.36,-7.55 L5.31,-7.22 L5.03,-6.20 L4.90,-5.86 L4.71,-5.56 L4.45,-5.29 L4.35,-5.20 L4.04,-4.99 L3.73,-4.86 L3.39,-4.82 L2.30,-4.82 M3.90,-4.82 L4.19,-4.34 L4.31,-4.07 L4.34,-3.77 L4.29,-3.44 L3.74,-1.38 L3.61,-1.05 L3.42,-0.75 L3.16,-0.47 L3.06,-0.39 L2.75,-0.17 L2.44,-0.04 L2.10,-0.00 L1.27,-0.00 L0.96,-0.04 L0.71,-0.17 L0.52,-0.39 L0.23,-0.86 M8.40,-7.74 L8.94,-8.21 L9.25,-8.43 L9.56,-8.56 L9.90,-8.60 L10.73,-8.60 L11.04,-8.56 L11.29,-8.43 L11.48,-8.21 L11.53,-8.13 L11.65,-7.85 L11.68,-7.55 L11.63,-7.22 L11.42,-6.45 L11.24,-5.95 L10.97,-5.48 L10.61,-5.04 L6.80,-1.06 L6.64,-0.86 L6.52,-0.65 L6.44,-0.43 L6.42,-0.35 L6.40,-0.15 L6.49,-0.04 L6.67,-0.00 L9.70,0.00" fill="none" stroke="#262626" stroke-width="0.95" stroke-linecap="round" stroke-linejoin="round"/>
<line x1="137.90" y1="401.00" x2="137.90" y2="448.00" class="t"/>
<line x1="248.80" y1="401.00" x2="248.80" y2="448.00" class="t"/>
<line x1="285.60" y1="379.00" x2="285.60" y2="448.00" class="t"/>
<line x1="262.20" y1="379.00" x2="262.20" y2="417.50" class="t"/>
<line x1="283.80" y1="379.00" x2="283.80" y2="399.00" class="t"/>
<line x1="268.80" y1="395.60" x2="308.60" y2="395.60" class="t"/>
<polygon points="283.80,395.60 274.80,396.90 274.80,394.30" fill="#1a1a1a" stroke="none"/>
<polygon points="285.60,395.60 294.60,394.30 294.60,396.90" fill="#1a1a1a" stroke="none"/>
<path transform="translate(298.90 392.80)" d="M1.77,-6.61 L3.46,-8.11 L3.80,-8.35 L3.95,-8.29 L3.91,-7.92 L1.79,0.00 M5.68,-0.00 L5.78,-0.00 L5.89,-0.01 L5.99,-0.03 L6.17,-0.07 L6.36,-0.11 L6.54,-0.18 L6.72,-0.27 L6.78,-0.31 L6.95,-0.42 L7.11,-0.54 L7.25,-0.69 L7.30,-0.74 L7.43,-0.90 L7.54,-1.06 L7.64,-1.24 L7.66,-1.30 L7.74,-1.48 L7.81,-1.66 L7.86,-1.84 L9.21,-6.86 L9.25,-7.04 L9.28,-7.22 L9.30,-7.40 L9.30,-7.46 L9.31,-7.64 L9.28,-7.80 L9.24,-7.96 L9.22,-8.01 L9.15,-8.16 L9.06,-8.28 L8.94,-8.39 L8.90,-8.43 L8.77,-8.52 L8.63,-8.59 L8.47,-8.63 L8.31,-8.67 L8.21,-8.69 L8.11,-8.70 L8.01,-8.70 L7.98,-8.70 L7.87,-8.70 L7.77,-8.69 L7.67,-8.67 L7.48,-8.63 L7.30,-8.59 L7.12,-8.52 L6.94,-8.43 L6.88,-8.39 L6.71,-8.28 L6.55,-8.16 L6.41,-8.01 L6.36,-7.96 L6.23,-7.80 L6.12,-7.64 L6.02,-7.46 L5.99,-7.40 L5.92,-7.22 L5.85,-7.04 L5.80,-6.86 L4.45,-1.84 L4.41,-1.66 L4.38,-1.48 L4.36,-1.30 L4.35,-1.24 L4.35,-1.06 L4.38,-0.90 L4.42,-0.74 L4.44,-0.69 L4.51,-0.54 L4.60,-0.42 L4.71,-0.31 L4.75,-0.27 L4.88,-0.18 L5.03,-0.11 L5.19,-0.07 L5.35,-0.03 L5.45,-0.01 L5.55,-0.00 L5.65,-0.00 L5.68,-0.00" fill="none" stroke="#262626" stroke-width="0.95" stroke-linecap="round" stroke-linejoin="round"/>
<line x1="262.20" y1="413.50" x2="313.00" y2="413.50" class="t"/>
<polygon points="262.20,413.50 271.20,412.20 271.20,414.80" fill="#1a1a1a" stroke="none"/>
<polygon points="283.80,413.50 274.80,414.80 274.80,412.20" fill="#1a1a1a" stroke="none"/>
<path transform="translate(298.90 411.10)" d="M1.81,-6.76 L3.54,-8.30 L3.89,-8.54 L4.05,-8.48 L4.00,-8.10 L1.83,0.00 M5.48,-6.76 L7.20,-8.30 L7.55,-8.54 L7.71,-8.48 L7.66,-8.10 L5.49,0.00 M9.09,-0.00 L9.19,-0.00 L9.30,-0.01 L9.41,-0.03 L9.59,-0.07 L9.78,-0.11 L9.97,-0.19 L10.15,-0.28 L10.21,-0.31 L10.38,-0.43 L10.55,-0.56 L10.70,-0.70 L10.74,-0.76 L10.88,-0.92 L10.99,-1.09 L11.09,-1.26 L11.12,-1.33 L11.20,-1.51 L11.26,-1.70 L11.32,-1.88 L12.70,-7.02 L12.74,-7.20 L12.77,-7.39 L12.79,-7.57 L12.80,-7.64 L12.80,-7.81 L12.77,-7.98 L12.73,-8.14 L12.70,-8.20 L12.63,-8.34 L12.54,-8.47 L12.43,-8.59 L12.39,-8.62 L12.25,-8.71 L12.11,-8.79 L11.94,-8.83 L11.78,-8.87 L11.68,-8.89 L11.58,-8.90 L11.47,-8.90 L11.44,-8.90 L11.33,-8.90 L11.23,-8.89 L11.12,-8.87 L10.93,-8.83 L10.74,-8.79 L10.56,-8.71 L10.38,-8.62 L10.32,-8.59 L10.14,-8.47 L9.98,-8.34 L9.83,-8.20 L9.78,-8.14 L9.65,-7.98 L9.53,-7.81 L9.44,-7.64 L9.41,-7.57 L9.33,-7.39 L9.26,-7.20 L9.21,-7.02 L7.83,-1.88 L7.79,-1.70 L7.76,-1.51 L7.74,-1.33 L7.73,-1.26 L7.73,-1.09 L7.75,-0.92 L7.80,-0.76 L7.82,-0.70 L7.89,-0.56 L7.99,-0.43 L8.10,-0.31 L8.14,-0.28 L8.27,-0.19 L8.42,-0.11 L8.58,-0.07 L8.75,-0.03 L8.85,-0.01 L8.95,-0.00 L9.05,-0.00 L9.09,-0.00" fill="none" stroke="#262626" stroke-width="0.95" stroke-linecap="round" stroke-linejoin="round"/>
<line x1="137.90" y1="444.50" x2="248.80" y2="444.50" class="t"/>
<polygon points="137.90,444.50 146.90,443.20 146.90,445.80" fill="#1a1a1a" stroke="none"/>
<polygon points="248.80,444.50 239.80,445.80 239.80,443.20" fill="#1a1a1a" stroke="none"/>
<path transform="translate(185.50 442.00)" d="M2.30,-8.60 L5.37,-8.60 L5.53,-8.57 L5.60,-8.46 L5.59,-8.29 L5.57,-8.22 L5.51,-8.02 L5.42,-7.82 L5.32,-7.62 L0.84,0.00 M7.74,-7.74 L8.28,-8.21 L8.58,-8.43 L8.90,-8.56 L9.24,-8.60 L10.07,-8.60 L10.38,-8.56 L10.63,-8.43 L10.82,-8.21 L10.87,-8.13 L10.99,-7.85 L11.02,-7.55 L10.97,-7.22 L10.69,-6.20 L10.57,-5.86 L10.37,-5.56 L10.11,-5.29 L10.01,-5.20 L9.71,-4.99 L9.39,-4.86 L9.06,-4.82 L7.96,-4.82 M9.57,-4.82 L9.86,-4.34 L9.97,-4.07 L10.01,-3.77 L9.95,-3.44 L9.40,-1.38 L9.28,-1.05 L9.08,-0.75 L8.82,-0.47 L8.72,-0.39 L8.42,-0.17 L8.10,-0.04 L7.76,-0.00 L6.93,-0.00 L6.62,-0.04 L6.37,-0.17 L6.18,-0.39 L5.89,-0.86 M13.03,-0.00 L13.13,-0.00 L13.23,-0.01 L13.34,-0.03 L13.52,-0.06 L13.70,-0.11 L13.88,-0.18 L14.05,-0.27 L14.11,-0.30 L14.28,-0.41 L14.44,-0.54 L14.58,-0.68 L14.63,-0.73 L14.76,-0.88 L14.87,-1.05 L14.96,-1.22 L14.99,-1.28 L15.06,-1.46 L15.13,-1.64 L15.18,-1.82 L16.51,-6.78 L16.56,-6.96 L16.59,-7.14 L16.60,-7.32 L16.61,-7.38 L16.61,-7.55 L16.59,-7.72 L16.54,-7.87 L16.52,-7.92 L16.45,-8.06 L16.36,-8.19 L16.25,-8.30 L16.21,-8.33 L16.08,-8.42 L15.94,-8.49 L15.78,-8.54 L15.62,-8.57 L15.53,-8.59 L15.43,-8.60 L15.33,-8.60 L15.30,-8.60 L15.20,-8.60 L15.09,-8.59 L14.99,-8.57 L14.81,-8.54 L14.63,-8.49 L14.45,-8.42 L14.27,-8.33 L14.21,-8.30 L14.04,-8.19 L13.89,-8.06 L13.74,-7.92 L13.70,-7.87 L13.57,-7.72 L13.46,-7.55 L13.36,-7.38 L13.34,-7.32 L13.26,-7.14 L13.20,-6.96 L13.14,-6.78 L11.81,-1.82 L11.77,-1.64 L11.74,-1.46 L11.72,-1.28 L11.72,-1.22 L11.71,-1.05 L11.74,-0.88 L11.78,-0.73 L11.80,-0.68 L11.87,-0.54 L11.96,-0.41 L12.07,-0.30 L12.11,-0.27 L12.24,-0.18 L12.38,-0.11 L12.54,-0.06 L12.70,-0.03 L12.80,-0.01 L12.89,-0.00 L12.99,-0.00 L13.03,-0.00" fill="none" stroke="#262626" stroke-width="0.95" stroke-linecap="round" stroke-linejoin="round"/>
<line x1="248.80" y1="444.50" x2="306.30" y2="444.50" class="t"/>
<polygon points="248.80,444.50 257.80,443.20 257.80,445.80" fill="#1a1a1a" stroke="none"/>
<polygon points="285.60,444.50 276.60,445.80 276.60,443.20" fill="#1a1a1a" stroke="none"/>
<path transform="translate(288.75 442.00)" d="M1.89,-7.07 L3.70,-8.67 L4.07,-8.93 L4.23,-8.86 L4.18,-8.46 L1.91,0.00 M4.90,0.00 L5.90,-0.00 L6.43,-0.08 L6.92,-0.30 L7.38,-0.68 L7.69,-1.00 L8.10,-1.46 L8.43,-1.97 L8.69,-2.50 L8.84,-2.89 L9.05,-3.44 L9.24,-4.00 L9.40,-4.56 L10.27,-7.81 L10.32,-8.17 L10.29,-8.49 L10.16,-8.79 L10.11,-8.88 L9.90,-9.11 L9.63,-9.25 L9.30,-9.30 L8.40,-9.30 L8.04,-9.25 L7.69,-9.11 L7.36,-8.88 L7.26,-8.79 L6.97,-8.49 L6.76,-8.17 L6.62,-7.81 L5.95,-5.28 L5.90,-4.94 L5.94,-4.63 L6.07,-4.37 L6.13,-4.28 L6.34,-4.07 L6.60,-3.95 L6.92,-3.91 L7.88,-3.91 L8.22,-3.95 L8.55,-4.07 L8.87,-4.28 L9.45,-4.74 M12.45,-0.00 L12.56,-0.00 L12.67,-0.01 L12.79,-0.03 L12.98,-0.07 L13.18,-0.12 L13.37,-0.19 L13.56,-0.29 L13.63,-0.33 L13.81,-0.44 L13.98,-0.58 L14.13,-0.73 L14.18,-0.79 L14.32,-0.96 L14.44,-1.13 L14.54,-1.32 L14.57,-1.39 L14.66,-1.58 L14.73,-1.77 L14.79,-1.97 L16.22,-7.33 L16.27,-7.53 L16.30,-7.72 L16.32,-7.91 L16.33,-7.98 L16.33,-8.17 L16.30,-8.34 L16.25,-8.51 L16.23,-8.57 L16.16,-8.72 L16.06,-8.86 L15.94,-8.97 L15.90,-9.01 L15.76,-9.11 L15.61,-9.18 L15.44,-9.23 L15.26,-9.27 L15.16,-9.29 L15.05,-9.30 L14.95,-9.30 L14.91,-9.30 L14.80,-9.30 L14.69,-9.29 L14.58,-9.27 L14.38,-9.23 L14.18,-9.18 L13.99,-9.11 L13.80,-9.01 L13.74,-8.97 L13.55,-8.86 L13.38,-8.72 L13.23,-8.57 L13.18,-8.51 L13.04,-8.34 L12.92,-8.17 L12.82,-7.98 L12.79,-7.91 L12.71,-7.72 L12.64,-7.53 L12.58,-7.33 L11.14,-1.97 L11.09,-1.77 L11.06,-1.58 L11.04,-1.39 L11.04,-1.32 L11.03,-1.13 L11.06,-0.96 L11.11,-0.79 L11.13,-0.73 L11.20,-0.58 L11.30,-0.44 L11.42,-0.33 L11.46,-0.29 L11.60,-0.19 L11.76,-0.12 L11.93,-0.07 L12.10,-0.03 L12.20,-0.01 L12.31,-0.00 L12.42,-0.00 L12.45,-0.00" fill="none" stroke="#262626" stroke-width="0.95" stroke-linecap="round" stroke-linejoin="round"/>
<path transform="translate(419.90 317.30)" d="M9.95,-13.30 L5.56,-13.30 L4.85,-13.17 L4.32,-12.77 L3.97,-12.11 L0.39,-1.19 L0.31,-0.53 L0.58,-0.13 L1.20,-0.00 L3.94,-0.00 L4.50,-0.07 L5.03,-0.27 L5.55,-0.60 L5.72,-0.73 L6.17,-1.16 L6.51,-1.64 L6.75,-2.17 L7.65,-4.92 L7.77,-5.52 L7.74,-6.07 L7.55,-6.57 L7.46,-6.73 L7.13,-7.13 L6.68,-7.37 L6.11,-7.45 L2.26,-7.45" fill="none" stroke="#262626" stroke-width="1.1" stroke-linecap="round" stroke-linejoin="round"/>
<line x1="435.30" y1="312.60" x2="441.70" y2="312.60" class="m2"/>
<path transform="translate(446.90 317.30)" d="M9.95,-13.30 L5.56,-13.30 L4.85,-13.17 L4.32,-12.77 L3.97,-12.11 L0.39,-1.19 L0.31,-0.53 L0.58,-0.13 L1.20,-0.00 L3.94,-0.00 L4.50,-0.07 L5.03,-0.27 L5.55,-0.60 L5.72,-0.73 L6.17,-1.16 L6.51,-1.64 L6.75,-2.17 L7.65,-4.92 L7.77,-5.52 L7.74,-6.07 L7.55,-6.57 L7.46,-6.73 L7.13,-7.13 L6.68,-7.37 L6.11,-7.45 L2.26,-7.45" fill="none" stroke="#262626" stroke-width="1.1" stroke-linecap="round" stroke-linejoin="round"/>
<clipPath id="shc"><circle cx="436.8" cy="373.9" r="28.7"/></clipPath>
<g clip-path="url(#shc)" stroke="#7a7a7a" stroke-width="0.75"><line x1="327.4" y1="413.9" x2="407.4" y2="333.9"/><line x1="337.6" y1="413.9" x2="417.6" y2="333.9"/><line x1="347.8" y1="413.9" x2="427.8" y2="333.9"/><line x1="358.0" y1="413.9" x2="438.0" y2="333.9"/><line x1="368.2" y1="413.9" x2="448.2" y2="333.9"/><line x1="378.4" y1="413.9" x2="458.4" y2="333.9"/><line x1="388.6" y1="413.9" x2="468.6" y2="333.9"/><line x1="398.8" y1="413.9" x2="478.8" y2="333.9"/><line x1="409.0" y1="413.9" x2="489.0" y2="333.9"/><line x1="419.2" y1="413.9" x2="499.2" y2="333.9"/><line x1="429.4" y1="413.9" x2="509.4" y2="333.9"/><line x1="439.6" y1="413.9" x2="519.6" y2="333.9"/><line x1="449.8" y1="413.9" x2="529.8" y2="333.9"/><line x1="460.0" y1="413.9" x2="540.0" y2="333.9"/><line x1="470.2" y1="413.9" x2="550.2" y2="333.9"/></g>
<clipPath id="kc"><rect x="428.3" y="341.0" width="17.0" height="10.7"/></clipPath>
<g clip-path="url(#kc)" stroke="#8a8a8a" stroke-width="0.7"><line x1="406.8" y1="358.4" x2="430.8" y2="334.4"/><line x1="412.8" y1="358.4" x2="436.8" y2="334.4"/><line x1="418.8" y1="358.4" x2="442.8" y2="334.4"/><line x1="424.8" y1="358.4" x2="448.8" y2="334.4"/><line x1="430.8" y1="358.4" x2="454.8" y2="334.4"/><line x1="436.8" y1="358.4" x2="460.8" y2="334.4"/><line x1="442.8" y1="358.4" x2="466.8" y2="334.4"/></g>
<path d="M428.30,346.49 A28.7,28.7 0 1 0 445.30,346.49" class="T" fill="none"/>
<rect x="428.30" y="341.00" width="17.00" height="10.70" class="M" fill="none" rx="0"/>
<line x1="428.30" y1="351.70" x2="428.30" y2="346.49" class="M"/>
<line x1="445.30" y1="351.70" x2="445.30" y2="346.49" class="M"/>
<line x1="405" y1="373.9" x2="468" y2="373.9" class="c"/>
<line x1="436.8" y1="338" x2="436.8" y2="408" class="c"/>
<line x1="428.30" y1="328.00" x2="428.30" y2="341.00" class="t"/>
<line x1="445.30" y1="328.00" x2="445.30" y2="341.00" class="t"/>
<line x1="404.00" y1="332.60" x2="458.80" y2="332.60" class="t"/>
<polygon points="428.30,332.60 419.30,333.90 419.30,331.30" fill="#1a1a1a" stroke="none"/>
<polygon points="445.30,332.60 454.30,331.30 454.30,333.90" fill="#1a1a1a" stroke="none"/>
<path transform="translate(406.40 329.40)" d="M1.59,-5.93 L3.10,-7.27 L3.41,-7.49 L3.55,-7.43 L3.51,-7.10 L1.61,0.00 M6.21,-4.37 L5.94,-4.75 L5.82,-4.98 L5.79,-5.23 L5.83,-5.52 L6.13,-6.65 L6.24,-6.93 L6.42,-7.19 L6.65,-7.41 L6.74,-7.48 L7.00,-7.66 L7.28,-7.76 L7.57,-7.80 L8.37,-7.80 L8.64,-7.76 L8.86,-7.66 L9.04,-7.48 L9.09,-7.41 L9.20,-7.19 L9.23,-6.93 L9.19,-6.65 L8.89,-5.52 L8.78,-5.23 L8.61,-4.98 L8.37,-4.75 L8.29,-4.68 L8.02,-4.51 L7.74,-4.40 L7.45,-4.37 L6.67,-4.37 L6.37,-4.33 L6.08,-4.21 L5.81,-4.02 L5.72,-3.94 L5.48,-3.69 L5.30,-3.42 L5.19,-3.12 L4.69,-1.25 L4.64,-0.95 L4.67,-0.68 L4.78,-0.43 L4.82,-0.35 L5.00,-0.16 L5.22,-0.04 L5.50,-0.00 L6.26,-0.00 L6.56,-0.04 L6.85,-0.16 L7.13,-0.35 L7.22,-0.43 L7.45,-0.68 L7.63,-0.95 L7.75,-1.25 L8.24,-3.12 L8.29,-3.42 L8.26,-3.69 L8.16,-3.94 L7.89,-4.37" fill="none" stroke="#262626" stroke-width="0.95" stroke-linecap="round" stroke-linejoin="round"/>
<line x1="445.30" y1="341.00" x2="487.50" y2="341.00" class="t"/>
<line x1="437.00" y1="402.60" x2="487.50" y2="402.60" class="t"/>
<line x1="483.70" y1="324.20" x2="483.70" y2="402.60" class="t"/>
<polygon points="483.70,341.00 485.00,350.00 482.40,350.00" fill="#1a1a1a" stroke="none"/>
<polygon points="483.70,402.60 482.40,393.60 485.00,393.60" fill="#1a1a1a" stroke="none"/>
<path transform="translate(481.40 338.50) rotate(-90.00)" d="M5.15,-8.30 L4.26,-8.30 L3.79,-8.23 L3.34,-8.03 L2.93,-7.69 L2.66,-7.41 L2.30,-6.99 L2.00,-6.54 L1.77,-6.07 L1.63,-5.72 L1.44,-5.23 L1.28,-4.73 L1.13,-4.23 L0.36,-1.33 L0.31,-1.01 L0.34,-0.72 L0.45,-0.46 L0.50,-0.37 L0.68,-0.17 L0.93,-0.04 L1.22,-0.00 L2.03,-0.00 L2.35,-0.04 L2.66,-0.17 L2.95,-0.37 L3.05,-0.46 L3.30,-0.72 L3.49,-1.01 L3.61,-1.33 L4.22,-3.59 L4.26,-3.89 L4.22,-4.16 L4.10,-4.40 L4.05,-4.48 L3.87,-4.66 L3.63,-4.78 L3.35,-4.81 L2.49,-4.81 L2.18,-4.78 L1.89,-4.66 L1.60,-4.48 L1.09,-4.07 M8.73,0.00 L10.75,-7.55 L10.81,-7.89 L10.71,-7.92 L10.46,-7.62 L6.98,-2.86 L6.89,-2.72 L6.82,-2.58 L6.77,-2.43 L6.76,-2.38 L6.75,-2.26 L6.80,-2.18 L6.92,-2.16 L10.28,-2.16" fill="none" stroke="#262626" stroke-width="0.95" stroke-linecap="round" stroke-linejoin="round"/>
<line x1="450.80" y1="348.90" x2="394.60" y2="448.40" class="t"/>
<polygon points="450.82,348.86 447.56,357.35 445.29,356.08" fill="#1a1a1a" stroke="none"/>
<polygon points="422.78,398.94 426.04,390.45 428.31,391.72" fill="#1a1a1a" stroke="none"/>
<path d="M593.4,84.9 C590.5,82.4 586,81.8 583.9,82.2 C579.5,82.8 575.5,85.8 573.5,88.5 C571,92 569.3,97 568.2,102.8 C567.7,105.4 568,107 569.1,108.6 L572.8,114.2 L573.6,117.0" class="I" fill="none"/>
<path d="M578.0,85.2 C575.2,87.2 572.6,90.6 571.2,94.0 L569.6,99.0" class="I" fill="none"/>
<circle cx="588.30" cy="87.30" r="1.15" class="I" fill="#111"/>
<polygon points="562.20,121.60 572.20,116.30 575.60,118.20 575.40,127.20 572.40,130.20 562.60,125.40" class="I" fill="none"/>
<polyline points="562.60,121.90 572.40,126.60 575.40,124.20" class="I" fill="none"/>
<ellipse cx="570.6" cy="121.9" rx="2.2" ry="1.3" class="I" fill="none" transform="rotate(-25 570.6 121.9)"/>
<path d="M621.90,77.42 L620.66,76.80 L619.34,76.32 L617.95,75.99 L616.50,75.80 L614.98,75.77 L613.42,75.88 L611.81,76.14 L610.16,76.55 L608.48,77.10 L606.77,77.80 L605.05,78.64 L603.32,79.61 L601.59,80.72 L599.86,81.95 L598.14,83.31 L596.45,84.78 L594.78,86.36 L593.15,88.05 L591.55,89.83 L590.01,91.70 L588.52,93.65 L587.09,95.67 L585.73,97.76 L584.44,99.90 L583.23,102.09 L582.10,104.31 L581.06,106.56 L580.12,108.82 L579.27,111.10 L578.53,113.37 L577.88,115.62 L577.35,117.86 L576.92,120.06 L576.61,122.23 L576.40,124.34 L576.31,126.40 L576.33,128.38 L576.47,130.29 L576.72,132.12 L577.08,133.85 L577.55,135.48 L578.13,137.01 L578.81,138.42 L579.60,139.71 L580.48,140.88 L581.47,141.91 L582.54,142.82 L583.70,143.58" class="I" fill="none"/>
<line x1="621.90" y1="77.42" x2="689.10" y2="116.22" class="I"/>
<line x1="583.70" y1="143.58" x2="650.90" y2="182.38" class="I"/>
<line x1="603.46" y1="79.53" x2="670.67" y2="118.33" class="I"/>
<path d="M689.10,116.22 L690.33,117.04 L691.47,118.02 L692.50,119.15 L693.42,120.42 L694.23,121.84 L694.92,123.39 L695.48,125.07 L695.93,126.86 L696.24,128.77 L696.43,130.77 L696.49,132.87 L696.42,135.04 L696.23,137.29 L695.90,139.59 L695.45,141.94 L694.87,144.33 L694.18,146.74 L693.36,149.16 L692.44,151.58 L691.40,153.99 L690.26,156.38 L689.02,158.74 L687.68,161.05 L686.26,163.30 L684.76,165.48 L683.19,167.59 L681.56,169.60 L679.87,171.52 L678.13,173.33 L676.35,175.02 L674.54,176.59 L672.71,178.02 L670.86,179.31 L669.01,180.46 L667.17,181.46 L665.34,182.29 L663.53,182.97 L661.76,183.49 L660.02,183.83 L658.33,184.01 L656.70,184.02 L655.13,183.86 L653.64,183.53 L652.23,183.04 L650.90,182.38 L649.67,181.56 L648.53,180.58 L647.50,179.45 L646.58,178.18 L645.77,176.76 L645.08,175.21 L644.52,173.53 L644.07,171.74 L643.76,169.83 L643.57,167.83 L643.51,165.73 L643.58,163.56 L643.77,161.31 L644.10,159.01 L644.55,156.66 L645.13,154.27 L645.82,151.86 L646.64,149.44 L647.56,147.02 L648.60,144.61 L649.74,142.22 L650.98,139.86 L652.32,137.55 L653.74,135.30 L655.24,133.12 L656.81,131.01 L658.44,129.00 L660.13,127.08 L661.87,125.27 L663.65,123.58 L665.46,122.01 L667.29,120.58 L669.14,119.29 L670.99,118.14 L672.83,117.14 L674.66,116.31 L676.47,115.63 L678.24,115.11 L679.98,114.77 L681.67,114.59 L683.30,114.58 L684.87,114.74 L686.36,115.07 L687.77,115.56 L689.10,116.22 Z" class="I" fill="white"/>
<path d="M687.95,118.21 L689.11,118.98 L690.18,119.90 L691.15,120.96 L692.01,122.16 L692.77,123.49 L693.42,124.95 L693.95,126.53 L694.37,128.21 L694.66,130.00 L694.84,131.89 L694.90,133.86 L694.83,135.90 L694.65,138.01 L694.34,140.17 L693.92,142.38 L693.38,144.63 L692.72,146.89 L691.96,149.17 L691.08,151.45 L690.11,153.71 L689.04,155.96 L687.87,158.17 L686.62,160.34 L685.28,162.46 L683.88,164.51 L682.40,166.49 L680.86,168.38 L679.27,170.18 L677.64,171.88 L675.97,173.47 L674.27,174.94 L672.55,176.29 L670.81,177.51 L669.07,178.58 L667.34,179.52 L665.62,180.31 L663.92,180.94 L662.25,181.43 L660.62,181.75 L659.03,181.92 L657.50,181.93 L656.03,181.78 L654.63,181.47 L653.30,181.01 L652.05,180.39 L650.89,179.62 L649.82,178.70 L648.85,177.64 L647.99,176.44 L647.23,175.11 L646.58,173.65 L646.05,172.07 L645.63,170.39 L645.34,168.60 L645.16,166.71 L645.10,164.74 L645.17,162.70 L645.35,160.59 L645.66,158.43 L646.08,156.22 L646.62,153.97 L647.28,151.71 L648.04,149.43 L648.92,147.15 L649.89,144.89 L650.96,142.64 L652.13,140.43 L653.38,138.26 L654.72,136.14 L656.12,134.09 L657.60,132.11 L659.14,130.22 L660.73,128.42 L662.36,126.72 L664.03,125.13 L665.73,123.66 L667.45,122.31 L669.19,121.09 L670.93,120.02 L672.66,119.08 L674.38,118.29 L676.08,117.66 L677.75,117.17 L679.38,116.85 L680.97,116.68 L682.50,116.67 L683.97,116.82 L685.37,117.13 L686.70,117.59 L687.95,118.21 Z" class="I" fill="none"/>
<line x1="669.50" y1="119.40" x2="667.60" y2="136.80" class="I"/>
<line x1="690.60" y1="122.80" x2="677.20" y2="138.20" class="I"/>
<line x1="656.40" y1="132.60" x2="667.60" y2="137.50" class="I"/>
<line x1="650.00" y1="140.00" x2="661.50" y2="144.20" class="I"/>
<line x1="646.90" y1="149.70" x2="659.20" y2="155.00" class="I"/>
<line x1="647.70" y1="173.60" x2="659.20" y2="156.80" class="I"/>
<line x1="652.80" y1="168.80" x2="664.00" y2="175.20" class="I"/>
<line x1="677.50" y1="134.80" x2="679.80" y2="140.00" class="I"/>
<line x1="648.60" y1="146.00" x2="659.40" y2="146.90" class="IT"/>
<path d="M672.10,139.57 L672.75,140.04 L673.30,140.66 L673.74,141.41 L674.07,142.28 L674.27,143.25 L674.35,144.32 L674.31,145.45 L674.14,146.63 L673.85,147.85 L673.44,149.07 L672.92,150.28 L672.30,151.46 L671.59,152.59 L670.80,153.64 L669.94,154.61 L669.04,155.47 L668.10,156.20 L667.14,156.81 L666.18,157.27 L665.23,157.58 L664.32,157.73 L663.45,157.72 L662.64,157.56 L661.90,157.23 L661.25,156.76 L660.70,156.14 L660.26,155.39 L659.93,154.52 L659.73,153.55 L659.65,152.48 L659.69,151.35 L659.86,150.17 L660.15,148.95 L660.56,147.73 L661.08,146.52 L661.70,145.34 L662.41,144.21 L663.20,143.16 L664.06,142.19 L664.96,141.33 L665.90,140.60 L666.86,139.99 L667.82,139.53 L668.77,139.22 L669.68,139.07 L670.55,139.08 L671.36,139.24 L672.10,139.57 Z" class="I" fill="white"/>
<path d="M671.90,141.80 L672.42,142.18 L672.86,142.68 L673.22,143.28 L673.48,143.98 L673.65,144.76 L673.71,145.62 L673.68,146.53 L673.54,147.48 L673.31,148.46 L672.98,149.44 L672.56,150.41 L672.06,151.36 L671.49,152.27 L670.85,153.11 L670.17,153.89 L669.44,154.58 L668.68,155.17 L667.91,155.66 L667.14,156.03 L666.38,156.28 L665.64,156.40 L664.94,156.40 L664.29,156.26 L663.70,156.00 L663.18,155.62 L662.74,155.12 L662.38,154.52 L662.12,153.82 L661.95,153.04 L661.89,152.18 L661.92,151.27 L662.06,150.32 L662.29,149.34 L662.62,148.36 L663.04,147.39 L663.54,146.44 L664.11,145.53 L664.75,144.69 L665.43,143.91 L666.16,143.22 L666.92,142.63 L667.69,142.14 L668.46,141.77 L669.22,141.52 L669.96,141.40 L670.66,141.40 L671.31,141.54 L671.90,141.80 Z" class="I" fill="none"/>
<path d="M671.13,143.29 L670.73,143.24 L670.32,143.23 L669.89,143.29 L669.45,143.39 L669.00,143.54 L668.55,143.75 L668.10,144.00 L667.65,144.30 L667.21,144.64 L666.79,145.03 L666.38,145.45 L665.99,145.90 L665.62,146.38 L665.28,146.89 L664.96,147.42 L664.68,147.97 L664.43,148.53 L664.22,149.09 L664.05,149.66 L663.91,150.22 L663.82,150.78 L663.77,151.32 L663.76,151.84 L663.79,152.35 L663.87,152.82 L663.98,153.27 L664.14,153.68 L664.33,154.05 L664.57,154.38 L664.83,154.67" class="I" fill="none"/>
<path d="M667.2,156.0 C668.4,161 669.4,166 669.4,172.0 L678.0,177.6" class="I" fill="none"/>
<path d="M693.40,140.97 L694.39,141.67 L695.26,142.53 L696.01,143.57 L696.63,144.75 L697.10,146.08 L697.43,147.53 L697.61,149.10 L697.64,150.75 L697.51,152.49 L697.24,154.27 L696.82,156.10 L696.25,157.94 L695.55,159.78 L694.73,161.59 L693.78,163.36 L692.72,165.07 L691.56,166.69 L690.32,168.22 L689.01,169.62 L687.64,170.90 L686.23,172.03 L684.79,173.01 L683.34,173.81 L681.90,174.44 L680.47,174.88 L679.09,175.13 L677.75,175.19 L676.48,175.06 L675.30,174.74 L674.20,174.23 L673.21,173.53 L672.34,172.67 L671.59,171.63 L670.97,170.45 L670.50,169.12 L670.17,167.67 L669.99,166.10 L669.96,164.45 L670.09,162.71 L670.36,160.93 L670.78,159.10 L671.35,157.26 L672.05,155.42 L672.87,153.61 L673.82,151.84 L674.88,150.13 L676.04,148.51 L677.28,146.98 L678.59,145.58 L679.96,144.30 L681.37,143.17 L682.81,142.19 L684.26,141.39 L685.70,140.76 L687.13,140.32 L688.51,140.07 L689.85,140.01 L691.12,140.14 L692.30,140.46 L693.40,140.97 Z" class="none" fill="white"/>
<path d="M696.78,145.13 L696.45,144.36 L696.06,143.65 L695.63,142.99 L695.14,142.40 L694.61,141.86 L694.04,141.39 L693.42,140.98 L692.76,140.65 L692.07,140.38 L691.34,140.18 L690.59,140.06 L689.80,140.01 L688.99,140.02 L688.16,140.11 L687.31,140.28 L686.44,140.51 L685.57,140.81 L684.69,141.18 L683.80,141.62 L682.92,142.13 L682.04,142.70 L681.16,143.32 L680.30,144.01 L679.45,144.75 L678.62,145.55 L677.81,146.40 L677.02,147.29 L676.26,148.22 L675.53,149.19 L674.84,150.20 L674.18,151.23 L673.57,152.29 L672.99,153.38 L672.46,154.48 L671.97,155.59 L671.54,156.72 L671.15,157.84 L670.82,158.97 L670.54,160.09 L670.31,161.19 L670.14,162.29 L670.02,163.36 L669.96,164.42 L669.96,165.44 L670.01,166.43 L670.13,167.39 L670.29,168.30 L670.51,169.17 L670.79,170.00 L671.12,170.77" class="I" fill="none"/>
<path d="M683.41,144.79 L682.70,145.30 L682.00,145.86 L681.30,146.45 L680.62,147.08 L679.96,147.75 L679.31,148.46 L678.68,149.19 L678.07,149.96 L677.48,150.75 L676.92,151.56 L676.38,152.40 L675.87,153.26 L675.40,154.13 L674.95,155.02 L674.53,155.92 L674.15,156.83 L673.81,157.74 L673.50,158.65 L673.22,159.57 L672.99,160.48 L672.79,161.38 L672.64,162.27 L672.52,163.15 L672.45,164.02 L672.41,164.86 L672.42,165.69 L672.46,166.49 L672.55,167.27 L672.68,168.02 L672.85,168.74" class="I" fill="none"/>
<circle cx="683.10" cy="142.30" r="1.00" class="I" fill="#111"/>
<path d="M699.40,146.18 L700.31,146.81 L701.11,147.60 L701.80,148.53 L702.38,149.59 L702.83,150.79 L703.14,152.09 L703.32,153.49 L703.37,154.97 L703.28,156.51 L703.05,158.10 L702.70,159.73 L702.21,161.36 L701.60,162.99 L700.87,164.60 L700.03,166.17 L699.09,167.68 L698.06,169.12 L696.95,170.46 L695.78,171.70 L694.55,172.82 L693.29,173.82 L692.00,174.67 L690.69,175.37 L689.39,175.91 L688.10,176.28 L686.85,176.49 L685.64,176.53 L684.48,176.40 L683.40,176.09 L682.40,175.62 L681.49,174.99 L680.69,174.20 L680.00,173.27 L679.42,172.21 L678.97,171.01 L678.66,169.71 L678.48,168.31 L678.43,166.83 L678.52,165.29 L678.75,163.70 L679.10,162.07 L679.59,160.44 L680.20,158.81 L680.93,157.20 L681.77,155.63 L682.71,154.12 L683.74,152.68 L684.85,151.34 L686.02,150.10 L687.25,148.98 L688.51,147.98 L689.80,147.13 L691.11,146.43 L692.41,145.89 L693.70,145.52 L694.95,145.31 L696.16,145.27 L697.32,145.40 L698.40,145.71 L699.40,146.18 Z" class="I" fill="white"/>
<path d="M697.80,147.48 L697.02,147.36 L696.19,147.34 L695.34,147.40 L694.47,147.55 L693.59,147.80 L692.69,148.13 L691.78,148.54 L690.88,149.04 L689.99,149.62 L689.10,150.28 L688.24,151.00 L687.39,151.80 L686.58,152.65 L685.80,153.57 L685.06,154.53 L684.36,155.54 L683.72,156.58 L683.12,157.66 L682.58,158.76 L682.10,159.88 L681.68,161.01 L681.33,162.14 L681.04,163.27 L680.83,164.39 L680.68,165.49 L680.61,166.56 L680.61,167.60 L680.68,168.61 L680.83,169.56 L681.04,170.47 L681.32,171.31 L681.67,172.10 L682.09,172.82 L682.57,173.46 L683.11,174.03 L683.71,174.52 L684.35,174.92 L685.05,175.24 L685.79,175.47 L686.57,175.61" class="I" fill="none"/>
<circle cx="695.05" cy="148.95" r="1.05" class="I" fill="#111"/>
<circle cx="687.81" cy="152.04" r="1.05" class="I" fill="#111"/>
<circle cx="682.36" cy="160.25" r="1.05" class="I" fill="#111"/>
<circle cx="681.84" cy="168.83" r="1.05" class="I" fill="#111"/>
<circle cx="686.57" cy="172.83" r="1.05" class="I" fill="#111"/>
<circle cx="693.80" cy="169.93" r="1.05" class="I" fill="#111"/>
<circle cx="699.35" cy="161.81" r="1.05" class="I" fill="#111"/>
<circle cx="700.02" cy="153.16" r="1.05" class="I" fill="#111"/>
<line x1="677.60" y1="180.00" x2="695.00" y2="170.60" class="I"/>
<polygon points="661.10,178.20 666.20,174.60 677.40,177.40 676.60,181.60 670.20,185.20 661.00,181.80" class="I" fill="none"/>
<polygon points="661.1,178.2 666.2,174.6 677.4,177.4 676.6,181.6 670.2,185.2 661.0,181.8" fill="white" stroke="none"/>
<polygon points="661.10,178.20 666.20,174.60 677.40,177.40 676.60,181.60 670.20,185.20 661.00,181.80" class="I" fill="none"/>
<polyline points="661.10,178.20 670.20,182.00 677.00,179.00" class="I" fill="none"/>
<line x1="670.20" y1="182.00" x2="670.20" y2="185.20" class="I"/>
<ellipse cx="668.6" cy="178.4" rx="2.4" ry="1.4" class="I" fill="none" transform="rotate(-20 668.6 178.4)"/>
<path d="M693.74,154.37 L693.28,154.39 L692.79,154.48 L692.29,154.64 L691.78,154.86 L691.27,155.15 L690.75,155.49 L690.25,155.89 L689.75,156.35 L689.26,156.85 L688.80,157.39 L688.36,157.97 L687.95,158.58 L687.57,159.22 L687.23,159.87 L686.93,160.54 L686.67,161.21 L686.46,161.88 L686.30,162.55 L686.19,163.20 L686.12,163.82 L686.11,164.43 L686.15,164.99 L686.25,165.52 L686.39,166.01 L686.58,166.44 L686.81,166.83 L687.10,167.15 L687.42,167.42 L687.78,167.62 L688.18,167.76" class="IT" fill="none"/>
<polygon points="694.77,156.20 713.20,166.20 707.20,176.60 688.77,166.60" fill="white" stroke="none"/>
<line x1="694.77" y1="156.20" x2="713.20" y2="166.20" class="I"/>
<line x1="688.77" y1="166.60" x2="707.20" y2="176.60" class="I"/>
<path d="M713.20,166.20 L713.62,166.53 L713.95,166.98 L714.19,167.53 L714.34,168.18 L714.38,168.91 L714.32,169.71 L714.15,170.54 L713.89,171.39 L713.54,172.25 L713.11,173.08 L712.60,173.87 L712.04,174.60 L711.43,175.26 L710.79,175.81 L710.14,176.26 L709.48,176.59 L708.85,176.79 L708.25,176.86 L707.69,176.79 L707.20,176.60 L706.78,176.27 L706.45,175.82 L706.21,175.27 L706.06,174.62 L706.02,173.89 L706.08,173.09 L706.25,172.26 L706.51,171.41 L706.86,170.55 L707.29,169.72 L707.80,168.93 L708.36,168.20 L708.97,167.54 L709.61,166.99 L710.26,166.54 L710.92,166.21 L711.55,166.01 L712.15,165.94 L712.71,166.01 L713.20,166.20 Z" class="I" fill="white"/>
<circle cx="711.00" cy="171.60" r="1.00" class="I" fill="#222"/>
<polygon points="703.80,159.00 706.40,157.30 710.60,159.90 710.60,163.20 708.00,164.80 703.80,162.40" class="I" fill="none"/>
<line x1="706.40" y1="157.30" x2="706.40" y2="160.60" class="t"/>
<line x1="703.80" y1="159.00" x2="708.00" y2="161.50" class="I"/>
<line x1="708.00" y1="161.50" x2="710.60" y2="159.90" class="I"/>
<line x1="708.00" y1="161.50" x2="708.00" y2="164.80" class="I"/>
<g transform="translate(396.1 448.2) rotate(-60.75)"><path transform="translate(2.60 -4.40)" d="M-0.18,0.66 L6.53,-10.56 M1.52,-2.45 L1.81,-2.07 L2.22,-1.84 L2.75,-1.76 L3.29,-1.76 L3.86,-1.83 L4.42,-2.02 L4.95,-2.35 L5.12,-2.49 L5.58,-2.91 L5.92,-3.39 L6.13,-3.92 L6.42,-5.01 L6.53,-5.61 L6.51,-6.19 L6.37,-6.73 L6.30,-6.91 L6.02,-7.35 L5.59,-7.61 L5.01,-7.70 L4.56,-7.70 L3.99,-7.63 L3.43,-7.44 L2.90,-7.11 L2.72,-6.97 L2.26,-6.55 L1.93,-6.07 L1.72,-5.54 L1.34,-4.15 L1.25,-3.60 L1.29,-3.09 L1.45,-2.61 L1.52,-2.45 M13.61,-11.00 L12.34,-11.00 L11.67,-10.91 L11.05,-10.64 L10.47,-10.20 L10.09,-9.82 L9.59,-9.27 L9.18,-8.67 L8.86,-8.04 L8.67,-7.58 L8.42,-6.93 L8.20,-6.27 L8.01,-5.61 L6.98,-1.77 L6.91,-1.34 L6.97,-0.95 L7.13,-0.61 L7.21,-0.50 L7.47,-0.22 L7.82,-0.06 L8.24,-0.00 L9.38,-0.00 L9.84,-0.06 L10.27,-0.22 L10.68,-0.50 L10.82,-0.61 L11.17,-0.95 L11.43,-1.34 L11.60,-1.77 L12.40,-4.76 L12.45,-5.16 L12.39,-5.52 L12.22,-5.84 L12.14,-5.93 L11.87,-6.18 L11.54,-6.33 L11.13,-6.38 L9.91,-6.38 L9.48,-6.33 L9.06,-6.18 L8.66,-5.93 L7.95,-5.39 M14.65,-0.00 L14.79,-0.00 L14.93,-0.02 L15.07,-0.04 L15.31,-0.08 L15.56,-0.14 L15.81,-0.23 L16.05,-0.34 L16.12,-0.39 L16.35,-0.53 L16.56,-0.69 L16.76,-0.87 L16.82,-0.93 L17.00,-1.13 L17.14,-1.34 L17.26,-1.56 L17.30,-1.64 L17.40,-1.87 L17.49,-2.10 L17.56,-2.33 L19.26,-8.67 L19.31,-8.90 L19.35,-9.13 L19.37,-9.36 L19.37,-9.44 L19.37,-9.66 L19.34,-9.87 L19.27,-10.07 L19.24,-10.13 L19.14,-10.31 L19.02,-10.47 L18.86,-10.61 L18.81,-10.66 L18.63,-10.77 L18.43,-10.86 L18.22,-10.92 L17.99,-10.96 L17.86,-10.98 L17.73,-11.00 L17.59,-11.00 L17.55,-11.00 L17.41,-11.00 L17.27,-10.98 L17.12,-10.96 L16.88,-10.92 L16.63,-10.86 L16.39,-10.77 L16.15,-10.66 L16.07,-10.61 L15.84,-10.47 L15.63,-10.31 L15.43,-10.13 L15.37,-10.07 L15.20,-9.87 L15.05,-9.66 L14.93,-9.44 L14.89,-9.36 L14.79,-9.13 L14.71,-8.90 L14.64,-8.67 L12.94,-2.33 L12.88,-2.10 L12.84,-1.87 L12.82,-1.64 L12.82,-1.56 L12.82,-1.34 L12.86,-1.13 L12.92,-0.93 L12.95,-0.87 L13.05,-0.69 L13.18,-0.53 L13.33,-0.39 L13.38,-0.34 L13.56,-0.23 L13.76,-0.14 L13.98,-0.08 L14.20,-0.04 L14.33,-0.02 L14.46,-0.00 L14.60,-0.00 L14.65,-0.00 M18.12,0.00 L21.07,-11.00 M24.81,-7.70 L18.89,-2.86 M21.03,-4.40 L22.74,0.00 M31.04,-11.00 L29.77,-11.00 L29.10,-10.91 L28.48,-10.64 L27.90,-10.20 L27.52,-9.82 L27.02,-9.27 L26.61,-8.67 L26.29,-8.04 L26.10,-7.58 L25.85,-6.93 L25.63,-6.27 L25.44,-5.61 L24.41,-1.77 L24.34,-1.34 L24.40,-0.95 L24.56,-0.61 L24.64,-0.50 L24.90,-0.22 L25.25,-0.06 L25.67,-0.00 L26.81,-0.00 L27.27,-0.06 L27.70,-0.22 L28.11,-0.50 L28.25,-0.61 L28.60,-0.95 L28.86,-1.34 L29.03,-1.77 L29.83,-4.76 L29.88,-5.16 L29.82,-5.52 L29.65,-5.84 L29.57,-5.93 L29.30,-6.18 L28.97,-6.33 L28.56,-6.38 L27.34,-6.38 L26.91,-6.33 L26.49,-6.18 L26.09,-5.93 L25.38,-5.39" fill="none" stroke="#262626" stroke-width="1.05" stroke-linecap="round" stroke-linejoin="round"/><path transform="translate(34.60 -4.40)" d="M5.34,-12.54 L3.70,-10.25 L3.30,-9.64 L2.95,-9.01 L2.65,-8.37 L1.88,-6.48 L1.64,-5.83 L1.46,-5.17 L1.35,-4.52 L1.11,-2.63 L1.06,-1.99 L1.08,-1.36 L1.16,-0.75 L1.57,1.54" fill="none" stroke="#262626" stroke-width="1.0" stroke-linecap="round" stroke-linejoin="round"/><path transform="translate(38.40 -9.40)" d="M0.29,-1.06 L1.50,-1.06 M0.73,-0.46 L1.06,-1.67 M2.67,-0.00 L2.72,-0.00 L2.77,-0.01 L2.81,-0.01 L2.89,-0.03 L2.98,-0.05 L3.06,-0.08 L3.14,-0.12 L3.16,-0.13 L3.24,-0.18 L3.31,-0.24 L3.37,-0.30 L3.39,-0.32 L3.45,-0.39 L3.50,-0.46 L3.54,-0.54 L3.55,-0.57 L3.59,-0.64 L3.62,-0.72 L3.64,-0.80 L4.23,-3.00 L4.25,-3.08 L4.26,-3.16 L4.27,-3.23 L4.27,-3.26 L4.27,-3.34 L4.26,-3.41 L4.24,-3.48 L4.23,-3.50 L4.20,-3.56 L4.16,-3.62 L4.11,-3.67 L4.09,-3.68 L4.03,-3.72 L3.97,-3.75 L3.90,-3.77 L3.82,-3.79 L3.78,-3.79 L3.74,-3.80 L3.69,-3.80 L3.68,-3.80 L3.63,-3.80 L3.58,-3.79 L3.54,-3.79 L3.46,-3.77 L3.37,-3.75 L3.29,-3.72 L3.22,-3.68 L3.19,-3.67 L3.11,-3.62 L3.04,-3.56 L2.98,-3.50 L2.96,-3.48 L2.90,-3.41 L2.85,-3.34 L2.81,-3.26 L2.80,-3.23 L2.76,-3.16 L2.73,-3.08 L2.71,-3.00 L2.12,-0.80 L2.10,-0.72 L2.09,-0.64 L2.08,-0.57 L2.08,-0.54 L2.08,-0.46 L2.09,-0.39 L2.11,-0.32 L2.12,-0.30 L2.15,-0.24 L2.19,-0.18 L2.24,-0.13 L2.26,-0.12 L2.32,-0.08 L2.38,-0.05 L2.45,-0.03 L2.53,-0.01 L2.57,-0.01 L2.61,-0.00 L2.66,-0.00 L2.67,-0.00 M4.16,-0.04 L4.47,-0.04 M5.95,-0.00 L6.00,-0.00 L6.05,-0.01 L6.09,-0.01 L6.17,-0.03 L6.26,-0.05 L6.34,-0.08 L6.42,-0.12 L6.44,-0.13 L6.52,-0.18 L6.59,-0.24 L6.65,-0.30 L6.67,-0.32 L6.73,-0.39 L6.78,-0.46 L6.82,-0.54 L6.84,-0.57 L6.87,-0.64 L6.90,-0.72 L6.92,-0.80 L7.51,-3.00 L7.53,-3.08 L7.54,-3.16 L7.55,-3.23 L7.55,-3.26 L7.55,-3.34 L7.54,-3.41 L7.52,-3.48 L7.51,-3.50 L7.48,-3.56 L7.44,-3.62 L7.39,-3.67 L7.37,-3.68 L7.31,-3.72 L7.25,-3.75 L7.18,-3.77 L7.10,-3.79 L7.06,-3.79 L7.02,-3.80 L6.97,-3.80 L6.96,-3.80 L6.91,-3.80 L6.87,-3.79 L6.82,-3.79 L6.74,-3.77 L6.66,-3.75 L6.58,-3.72 L6.50,-3.68 L6.47,-3.67 L6.39,-3.62 L6.32,-3.56 L6.26,-3.50 L6.24,-3.48 L6.18,-3.41 L6.13,-3.34 L6.09,-3.26 L6.08,-3.23 L6.04,-3.16 L6.01,-3.08 L5.99,-3.00 L5.40,-0.80 L5.38,-0.72 L5.37,-0.64 L5.36,-0.57 L5.36,-0.54 L5.36,-0.46 L5.37,-0.39 L5.39,-0.32 L5.40,-0.30 L5.43,-0.24 L5.47,-0.18 L5.52,-0.13 L5.54,-0.12 L5.60,-0.08 L5.66,-0.05 L5.73,-0.03 L5.81,-0.01 L5.85,-0.01 L5.89,-0.00 L5.94,-0.00 L5.95,-0.00 M8.31,-3.42 L8.56,-3.63 L8.69,-3.72 L8.84,-3.78 L8.99,-3.80 L9.36,-3.80 L9.50,-3.78 L9.62,-3.72 L9.70,-3.63 L9.73,-3.59 L9.78,-3.47 L9.79,-3.34 L9.77,-3.19 L9.68,-2.85 L9.60,-2.63 L9.48,-2.42 L9.32,-2.23 L7.61,-0.47 L7.54,-0.38 L7.48,-0.29 L7.45,-0.19 L7.44,-0.15 L7.43,-0.07 L7.47,-0.02 L7.55,-0.00 L8.92,0.00 M10.38,-2.89 L11.13,-3.54 L11.28,-3.65 L11.35,-3.62 L11.33,-3.46 L10.41,0.00" fill="none" stroke="#333" stroke-width="0.65" stroke-linecap="round" stroke-linejoin="round"/><path transform="translate(38.40 -4.40)" d="M0.29,-1.06 L1.50,-1.06 M0.73,-0.46 L1.06,-1.67 M2.54,-0.00 L2.59,-0.00 L2.64,-0.01 L2.68,-0.01 L2.76,-0.03 L2.85,-0.05 L2.93,-0.08 L3.01,-0.12 L3.03,-0.13 L3.11,-0.18 L3.18,-0.24 L3.24,-0.30 L3.26,-0.32 L3.32,-0.39 L3.37,-0.46 L3.41,-0.54 L3.43,-0.57 L3.46,-0.64 L3.49,-0.72 L3.51,-0.80 L4.10,-3.00 L4.12,-3.08 L4.13,-3.16 L4.14,-3.23 L4.14,-3.26 L4.14,-3.34 L4.13,-3.41 L4.11,-3.48 L4.10,-3.50 L4.07,-3.56 L4.03,-3.62 L3.98,-3.67 L3.96,-3.68 L3.90,-3.72 L3.84,-3.75 L3.77,-3.77 L3.69,-3.79 L3.65,-3.79 L3.61,-3.80 L3.56,-3.80 L3.55,-3.80 L3.50,-3.80 L3.46,-3.79 L3.41,-3.79 L3.33,-3.77 L3.25,-3.75 L3.17,-3.72 L3.09,-3.68 L3.06,-3.67 L2.98,-3.62 L2.91,-3.56 L2.85,-3.50 L2.83,-3.48 L2.77,-3.41 L2.72,-3.34 L2.68,-3.26 L2.67,-3.23 L2.63,-3.16 L2.60,-3.08 L2.58,-3.00 L1.99,-0.80 L1.97,-0.72 L1.96,-0.64 L1.95,-0.57 L1.95,-0.54 L1.95,-0.46 L1.96,-0.39 L1.98,-0.32 L1.99,-0.30 L2.02,-0.24 L2.06,-0.18 L2.11,-0.13 L2.13,-0.12 L2.19,-0.08 L2.25,-0.05 L2.32,-0.03 L2.40,-0.01 L2.44,-0.01 L2.48,-0.00 L2.53,-0.00 L2.54,-0.00 M3.91,-0.04 L4.21,-0.04 M5.57,-0.00 L5.61,-0.00 L5.66,-0.01 L5.71,-0.01 L5.79,-0.03 L5.87,-0.05 L5.95,-0.08 L6.03,-0.12 L6.06,-0.13 L6.13,-0.18 L6.20,-0.24 L6.27,-0.30 L6.29,-0.32 L6.35,-0.39 L6.39,-0.46 L6.44,-0.54 L6.45,-0.57 L6.48,-0.64 L6.51,-0.72 L6.53,-0.80 L7.12,-3.00 L7.14,-3.08 L7.15,-3.16 L7.16,-3.23 L7.16,-3.26 L7.16,-3.34 L7.15,-3.41 L7.13,-3.48 L7.12,-3.50 L7.09,-3.56 L7.05,-3.62 L7.00,-3.67 L6.98,-3.68 L6.93,-3.72 L6.86,-3.75 L6.79,-3.77 L6.72,-3.79 L6.67,-3.79 L6.63,-3.80 L6.59,-3.80 L6.57,-3.80 L6.52,-3.80 L6.48,-3.79 L6.43,-3.79 L6.35,-3.77 L6.27,-3.75 L6.19,-3.72 L6.11,-3.68 L6.08,-3.67 L6.01,-3.62 L5.94,-3.56 L5.87,-3.50 L5.85,-3.48 L5.79,-3.41 L5.74,-3.34 L5.70,-3.26 L5.69,-3.23 L5.66,-3.16 L5.63,-3.08 L5.60,-3.00 L5.01,-0.80 L5.00,-0.72 L4.98,-0.64 L4.97,-0.57 L4.97,-0.54 L4.97,-0.46 L4.98,-0.39 L5.00,-0.32 L5.01,-0.30 L5.04,-0.24 L5.09,-0.18 L5.14,-0.13 L5.15,-0.12 L5.21,-0.08 L5.28,-0.05 L5.35,-0.03 L5.42,-0.01 L5.46,-0.01 L5.51,-0.00 L5.55,-0.00 L5.57,-0.00 M7.65,-0.00 L7.69,-0.00 L7.74,-0.01 L7.79,-0.01 L7.87,-0.03 L7.95,-0.05 L8.03,-0.08 L8.11,-0.12 L8.14,-0.13 L8.21,-0.18 L8.28,-0.24 L8.35,-0.30 L8.37,-0.32 L8.43,-0.39 L8.48,-0.46 L8.52,-0.54 L8.53,-0.57 L8.56,-0.64 L8.59,-0.72 L8.62,-0.80 L9.20,-3.00 L9.22,-3.08 L9.24,-3.16 L9.24,-3.23 L9.25,-3.26 L9.25,-3.34 L9.23,-3.41 L9.21,-3.48 L9.20,-3.50 L9.17,-3.56 L9.13,-3.62 L9.08,-3.67 L9.06,-3.68 L9.01,-3.72 L8.94,-3.75 L8.87,-3.77 L8.80,-3.79 L8.76,-3.79 L8.71,-3.80 L8.67,-3.80 L8.65,-3.80 L8.61,-3.80 L8.56,-3.79 L8.51,-3.79 L8.43,-3.77 L8.35,-3.75 L8.27,-3.72 L8.19,-3.68 L8.16,-3.67 L8.09,-3.62 L8.02,-3.56 L7.95,-3.50 L7.93,-3.48 L7.87,-3.41 L7.82,-3.34 L7.78,-3.26 L7.77,-3.23 L7.74,-3.16 L7.71,-3.08 L7.68,-3.00 L7.10,-0.80 L7.08,-0.72 L7.06,-0.64 L7.06,-0.57 L7.05,-0.54 L7.05,-0.46 L7.06,-0.39 L7.09,-0.32 L7.09,-0.30 L7.13,-0.24 L7.17,-0.18 L7.22,-0.13 L7.23,-0.12 L7.29,-0.08 L7.36,-0.05 L7.43,-0.03 L7.50,-0.01 L7.54,-0.01 L7.59,-0.00 L7.63,-0.00 L7.65,-0.00 M9.88,-3.42 L10.12,-3.63 L10.26,-3.72 L10.40,-3.78 L10.55,-3.80 L10.93,-3.80 L11.07,-3.78 L11.18,-3.72 L11.27,-3.63 L11.29,-3.59 L11.34,-3.47 L11.36,-3.34 L11.34,-3.19 L11.25,-2.85 L11.16,-2.63 L11.04,-2.42 L10.88,-2.23 L9.18,-0.47 L9.10,-0.38 L9.05,-0.29 L9.01,-0.19 L9.00,-0.15 L9.00,-0.07 L9.03,-0.02 L9.12,-0.00 L10.48,0.00" fill="none" stroke="#333" stroke-width="0.65" stroke-linecap="round" stroke-linejoin="round"/><path transform="translate(49.60 -4.40)" d="M3.36,-12.54 L3.77,-10.25 L3.85,-9.64 L3.86,-9.01 L3.81,-8.37 L3.58,-6.48 L3.46,-5.83 L3.29,-5.17 L3.05,-4.52 L2.27,-2.63 L1.98,-1.99 L1.63,-1.36 L1.23,-0.75 L-0.41,1.54" fill="none" stroke="#262626" stroke-width="1.0" stroke-linecap="round" stroke-linejoin="round"/></g>
<text x="651.50" y="233.00" class="s" font-size="16.4" text-anchor="middle" textLength="205.5" lengthAdjust="spacingAndGlyphs">Технические характеристики</text>
<rect x="510.8" y="240.0" width="275.8" height="255.0" fill="none" stroke="#111" stroke-width="1.6"/>
<line x1="662.5" y1="240" x2="662.5" y2="495" stroke="#111" stroke-width="1.4"/>
<line x1="510.8" y1="260.4" x2="786.6" y2="260.4" stroke="#111" stroke-width="1.3"/>
<line x1="510.8" y1="300.3" x2="786.6" y2="300.3" stroke="#111" stroke-width="1.3"/>
<line x1="510.8" y1="319.6" x2="786.6" y2="319.6" stroke="#111" stroke-width="1.3"/>
<line x1="510.8" y1="338.9" x2="786.6" y2="338.9" stroke="#111" stroke-width="1.3"/>
<line x1="510.8" y1="358.5" x2="786.6" y2="358.5" stroke="#111" stroke-width="1.3"/>
<line x1="510.8" y1="378.4" x2="786.6" y2="378.4" stroke="#111" stroke-width="1.3"/>
<line x1="510.8" y1="417.9" x2="786.6" y2="417.9" stroke="#111" stroke-width="1.3"/>
<line x1="510.8" y1="456.8" x2="786.6" y2="456.8" stroke="#111" stroke-width="1.3"/>
<text transform="translate(514.6 255.80) scale(0.895 1)" class="s tb">Параметры</text>
<text transform="translate(724.6 255.80) scale(0.895 1)" class="s tb" text-anchor="middle">Значения</text>
<text transform="translate(514.6 276.20) scale(0.895 1)" class="s tb">Подшипник,</text>
<text transform="translate(514.6 294.60) scale(0.895 1)" class="s tb">ГОСТ 5721-75</text>
<text transform="translate(724.6 276.20) scale(0.895 1)" class="s tb" text-anchor="middle">3612</text>
<text transform="translate(514.6 316.10) scale(0.895 1)" class="s tb">Диаметр барабана, мм</text>
<text transform="translate(724.6 316.10) scale(0.895 1)" class="s tb" text-anchor="middle">400</text>
<text transform="translate(514.6 335.40) scale(0.895 1)" class="s tb">Толщина обечайки, мм</text>
<text transform="translate(724.6 335.40) scale(0.895 1)" class="s tb" text-anchor="middle">12</text>
<text transform="translate(514.6 354.70) scale(0.895 1)" class="s tb">Количество дисков, шт.</text>
<text transform="translate(724.6 354.70) scale(0.895 1)" class="s tb" text-anchor="middle">2</text>
<text transform="translate(514.6 374.30) scale(0.895 1)" class="s tb">Количество ребер, шт.</text>
<text transform="translate(724.6 374.30) scale(0.895 1)" class="s tb" text-anchor="middle">12</text>
<text transform="translate(514.6 394.20) scale(0.895 1)" class="s tb">Вариант уплотнения</text>
<text transform="translate(514.6 412.60) scale(0.895 1)" class="s tb">буксы</text>
<text transform="translate(724.6 394.20) scale(0.895 1)" class="s tb" text-anchor="middle">Лабиринтное или</text>
<text transform="translate(724.6 412.60) scale(0.895 1)" class="s tb" text-anchor="middle">манжетное</text>
<text transform="translate(514.6 433.70) scale(0.895 1)" class="s tb">Вариант поверхности</text>
<text transform="translate(514.6 452.10) scale(0.895 1)" class="s tb">барабана</text>
<text transform="translate(724.6 433.70) scale(0.895 1)" class="s tb" text-anchor="middle">Футированный или</text>
<text transform="translate(724.6 452.10) scale(0.895 1)" class="s tb" text-anchor="middle">нефутированный</text>
<text transform="translate(514.6 472.60) scale(0.895 1)" class="s tb">Масса нефутеровоного</text>
<text transform="translate(514.6 491.00) scale(0.895 1)" class="s tb">барабана</text>
<text transform="translate(724.6 472.60) scale(0.895 1)" class="s tb" text-anchor="middle">163</text>
<text x="335.6" y="518.5" class="s ft" text-anchor="middle" textLength="229.5" lengthAdjust="spacingAndGlyphs">ООО УК "СИБТЕНЗОПРИБОР"</text>
<text x="335.4" y="533.5" class="s ft" text-anchor="middle" textLength="534.4" lengthAdjust="spacingAndGlyphs">652300, Кемеровская обл., г. Топки, ул. Заводская, д. 1, тел. 8 800 775 20 55</text>
<text x="335.2" y="547.7" class="s ft" text-anchor="middle" textLength="312" lengthAdjust="spacingAndGlyphs">www.sibtenzo.com e-mail: info@sibtenzo.com</text>
<circle cx="678.8" cy="522.6" r="13.6" fill="#ece64a" stroke="#c9c12a" stroke-width="0.8"/><circle cx="678.8" cy="522.6" r="11.3" fill="none" stroke="#f7f39a" stroke-width="0.8"/><ellipse cx="678.8" cy="516.8" rx="2.6" ry="5.4" fill="none" stroke="#b8b020" stroke-width="0.7" transform="rotate(0 678.8 522.6)"/><ellipse cx="678.8" cy="516.8" rx="2.6" ry="5.4" fill="none" stroke="#b8b020" stroke-width="0.7" transform="rotate(45 678.8 522.6)"/><ellipse cx="678.8" cy="516.8" rx="2.6" ry="5.4" fill="none" stroke="#b8b020" stroke-width="0.7" transform="rotate(90 678.8 522.6)"/><ellipse cx="678.8" cy="516.8" rx="2.6" ry="5.4" fill="none" stroke="#b8b020" stroke-width="0.7" transform="rotate(135 678.8 522.6)"/><ellipse cx="678.8" cy="516.8" rx="2.6" ry="5.4" fill="none" stroke="#b8b020" stroke-width="0.7" transform="rotate(180 678.8 522.6)"/><ellipse cx="678.8" cy="516.8" rx="2.6" ry="5.4" fill="none" stroke="#b8b020" stroke-width="0.7" transform="rotate(225 678.8 522.6)"/><ellipse cx="678.8" cy="516.8" rx="2.6" ry="5.4" fill="none" stroke="#b8b020" stroke-width="0.7" transform="rotate(270 678.8 522.6)"/><ellipse cx="678.8" cy="516.8" rx="2.6" ry="5.4" fill="none" stroke="#b8b020" stroke-width="0.7" transform="rotate(315 678.8 522.6)"/><circle cx="678.8" cy="522.6" r="1.6" fill="#b8b020"/><text x="696.5" y="533.8" font-family="Liberation Sans" font-weight="bold" font-style="italic" font-size="24.6" fill="#1d4f8b" textLength="53" lengthAdjust="spacingAndGlyphs">STP</text><line x1="667" y1="538.7" x2="743.5" y2="538.7" stroke="#3a68a0" stroke-width="0.8"/><text x="667.2" y="546.3" font-family="Liberation Sans" font-weight="bold" font-style="italic" font-size="8.4" fill="#2b4a75" textLength="81" lengthAdjust="spacingAndGlyphs">Traditions of Accuracy</text></svg></body></html>
